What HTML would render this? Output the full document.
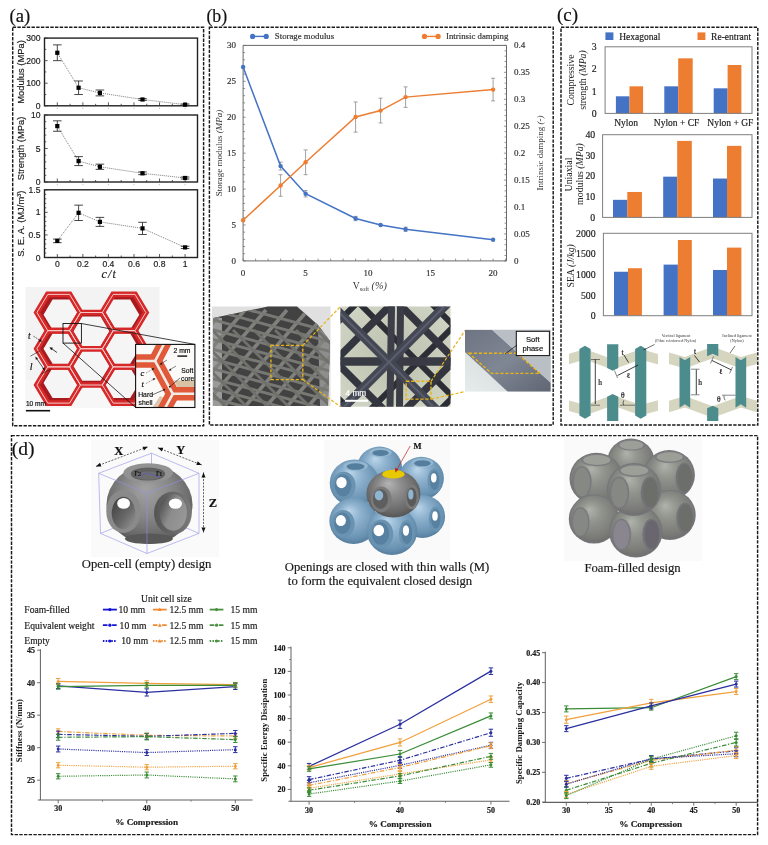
<!DOCTYPE html>
<html><head><meta charset="utf-8"><title>figure</title>
<style>
html,body{margin:0;padding:0;background:#fff;}
body{width:768px;height:845px;overflow:hidden;font-family:"Liberation Serif",serif;}
svg{display:block;} text{-webkit-font-smoothing:antialiased;stroke-width:0.18px;} body{will-change:transform;}
</style></head><body>
<svg width="768" height="845" viewBox="0 0 768 845">
<defs>
<clipPath id="hcclip"><rect x="25" y="287" width="135" height="120"/></clipPath>
<clipPath id="insclip"><rect x="135.6" y="344.4" width="59.30000000000001" height="63.10000000000002"/></clipPath>
<clipPath id="p1clip"><rect x="212" y="306.5" width="118.5" height="99.4"/></clipPath>
<clipPath id="p1body"><polygon points="213,318 268,306.5 297,306.5 318,325 330,341 328,406 213,406"/></clipPath>
<clipPath id="p2clip"><rect x="340.5" y="306.5" width="110" height="100.2"/></clipPath>
<radialGradient id="p2bg" cx="0.5" cy="0.5" r="0.7"><stop offset="0" stop-color="#bcc0ae"/><stop offset="1" stop-color="#d2d6c6"/></radialGradient>
<clipPath id="p3clip"><rect x="465" y="329.7" width="85.6" height="61.9"/></clipPath>
<linearGradient id="p3bg" x1="0" y1="1" x2="1" y2="0"><stop offset="0" stop-color="#e6ecea"/><stop offset="1" stop-color="#c8ced2"/></linearGradient>
<linearGradient id="p3st" x1="0" y1="0" x2="1" y2="1"><stop offset="0" stop-color="#6e7482"/><stop offset="0.5" stop-color="#7f8694"/><stop offset="1" stop-color="#5f6572"/></linearGradient>
<clipPath id="dgl"><rect x="569" y="340" width="89" height="83"/></clipPath>
<clipPath id="dgr"><rect x="669" y="340" width="88" height="83"/></clipPath>
<radialGradient id="gOpen" cx="0.5" cy="0.42" r="0.6" fx="0.45" fy="0.3"><stop offset="0" stop-color="#a2a2a2"/><stop offset="0.5" stop-color="#868686"/><stop offset="0.85" stop-color="#686868"/><stop offset="1" stop-color="#545454"/></radialGradient>
<linearGradient id="gTun" x1="0" y1="0" x2="1" y2="1"><stop offset="0" stop-color="#3a3a3a"/><stop offset="0.6" stop-color="#6a6a6a"/><stop offset="1" stop-color="#9a9a9a"/></linearGradient>
<linearGradient id="gTunR" x1="0" y1="0.2" x2="1" y2="0.8"><stop offset="0" stop-color="#4a4a4a"/><stop offset="0.45" stop-color="#8c8c8c"/><stop offset="1" stop-color="#9a9a9a"/></linearGradient>
<linearGradient id="gRing" x1="0" y1="0" x2="1" y2="0"><stop offset="0" stop-color="#555555"/><stop offset="1" stop-color="#7a7a7a"/></linearGradient>
<radialGradient id="gBlue" cx="0.5" cy="0.45" r="0.6" fx="0.4" fy="0.28"><stop offset="0" stop-color="#bcd6ea"/><stop offset="0.35" stop-color="#8fb3cf"/><stop offset="0.8" stop-color="#6790b0"/><stop offset="1" stop-color="#4d7696"/></radialGradient>
<radialGradient id="gGray" cx="0.5" cy="0.45" r="0.6" fx="0.4" fy="0.28"><stop offset="0" stop-color="#b4b4b4"/><stop offset="0.35" stop-color="#8e8e8e"/><stop offset="0.8" stop-color="#666"/><stop offset="1" stop-color="#4c4c4c"/></radialGradient>
<radialGradient id="gFoam" cx="0.5" cy="0.45" r="0.6" fx="0.4" fy="0.3"><stop offset="0" stop-color="#b0b2ac"/><stop offset="0.35" stop-color="#92948e"/><stop offset="0.8" stop-color="#7a7b77"/><stop offset="1" stop-color="#6a6a6c"/></radialGradient>
</defs>
<rect x="0" y="0" width="768" height="845" fill="#fff"/>
<rect x="12.7" y="27.3" width="190.9" height="398.5" fill="none" stroke="#1a1a1a" stroke-width="1.45" stroke-dasharray="3.4,1.3"/>
<text x="9.5" y="21.6" font-family="'Liberation Serif', serif" font-size="18.6" text-anchor="start" fill="#111" stroke="#111" font-weight="normal" font-style="normal">(a)</text>
<rect x="44.5" y="38.1" width="153" height="67.7" fill="none" stroke="#222" stroke-width="1.4"/>
<line x1="44.5" y1="105.8" x2="47.7" y2="105.8" stroke="#333" stroke-width="0.8"/>
<line x1="44.5" y1="94.52" x2="46.3" y2="94.52" stroke="#333" stroke-width="0.8"/>
<line x1="44.5" y1="83.23" x2="47.7" y2="83.23" stroke="#333" stroke-width="0.8"/>
<line x1="44.5" y1="71.95" x2="46.3" y2="71.95" stroke="#333" stroke-width="0.8"/>
<line x1="44.5" y1="60.67" x2="47.7" y2="60.67" stroke="#333" stroke-width="0.8"/>
<line x1="44.5" y1="49.38" x2="46.3" y2="49.38" stroke="#333" stroke-width="0.8"/>
<line x1="44.5" y1="38.1" x2="47.7" y2="38.1" stroke="#333" stroke-width="0.8"/>
<text x="40.5" y="108.8" font-family="'Liberation Sans', sans-serif" font-size="8.6" text-anchor="end" fill="#222" stroke="#222" font-weight="normal" font-style="normal">0</text>
<text x="40.5" y="86.23" font-family="'Liberation Sans', sans-serif" font-size="8.6" text-anchor="end" fill="#222" stroke="#222" font-weight="normal" font-style="normal">100</text>
<text x="40.5" y="63.67" font-family="'Liberation Sans', sans-serif" font-size="8.6" text-anchor="end" fill="#222" stroke="#222" font-weight="normal" font-style="normal">200</text>
<text x="40.5" y="41.1" font-family="'Liberation Sans', sans-serif" font-size="8.6" text-anchor="end" fill="#222" stroke="#222" font-weight="normal" font-style="normal">300</text>
<line x1="57.3" y1="105.8" x2="57.3" y2="102.3" stroke="#333" stroke-width="0.8"/>
<line x1="57.3" y1="107.8" x2="57.3" y2="109" stroke="#999" stroke-width="0.6"/>
<line x1="70.08" y1="105.8" x2="70.08" y2="103.8" stroke="#333" stroke-width="0.8"/>
<line x1="82.86" y1="105.8" x2="82.86" y2="102.3" stroke="#333" stroke-width="0.8"/>
<line x1="82.86" y1="107.8" x2="82.86" y2="109" stroke="#999" stroke-width="0.6"/>
<line x1="95.64" y1="105.8" x2="95.64" y2="103.8" stroke="#333" stroke-width="0.8"/>
<line x1="108.42" y1="105.8" x2="108.42" y2="102.3" stroke="#333" stroke-width="0.8"/>
<line x1="108.42" y1="107.8" x2="108.42" y2="109" stroke="#999" stroke-width="0.6"/>
<line x1="121.2" y1="105.8" x2="121.2" y2="103.8" stroke="#333" stroke-width="0.8"/>
<line x1="133.98" y1="105.8" x2="133.98" y2="102.3" stroke="#333" stroke-width="0.8"/>
<line x1="133.98" y1="107.8" x2="133.98" y2="109" stroke="#999" stroke-width="0.6"/>
<line x1="146.76" y1="105.8" x2="146.76" y2="103.8" stroke="#333" stroke-width="0.8"/>
<line x1="159.54" y1="105.8" x2="159.54" y2="102.3" stroke="#333" stroke-width="0.8"/>
<line x1="159.54" y1="107.8" x2="159.54" y2="109" stroke="#999" stroke-width="0.6"/>
<line x1="172.32" y1="105.8" x2="172.32" y2="103.8" stroke="#333" stroke-width="0.8"/>
<line x1="185.1" y1="105.8" x2="185.1" y2="102.3" stroke="#333" stroke-width="0.8"/>
<line x1="185.1" y1="107.8" x2="185.1" y2="109" stroke="#999" stroke-width="0.6"/>
<text x="23.9" y="71.95" font-family="'Liberation Sans', sans-serif" font-size="9.4" text-anchor="middle" fill="#222" stroke="#222" font-weight="normal" font-style="normal" transform="rotate(-90 23.9 71.95)">Modulus (MPa)</text>
<polyline points="57.3,52.77 78.6,87.75 99.9,92.94 142.5,99.48 185.1,104.67" fill="none" stroke="#444" stroke-width="0.7" stroke-dasharray="1,1"/>
<line x1="57.3" y1="44.87" x2="57.3" y2="60.67" stroke="#333" stroke-width="0.9"/>
<line x1="53" y1="44.87" x2="61.6" y2="44.87" stroke="#333" stroke-width="0.9"/>
<line x1="53" y1="60.67" x2="61.6" y2="60.67" stroke="#333" stroke-width="0.9"/>
<rect x="55.2" y="50.67" width="4.2" height="4.2" fill="#000" stroke="none" stroke-width="1"/>
<line x1="78.6" y1="80.98" x2="78.6" y2="94.52" stroke="#333" stroke-width="0.9"/>
<line x1="74.3" y1="80.98" x2="82.9" y2="80.98" stroke="#333" stroke-width="0.9"/>
<line x1="74.3" y1="94.52" x2="82.9" y2="94.52" stroke="#333" stroke-width="0.9"/>
<rect x="76.5" y="85.65" width="4.2" height="4.2" fill="#000" stroke="none" stroke-width="1"/>
<line x1="99.9" y1="90" x2="99.9" y2="95.87" stroke="#333" stroke-width="0.9"/>
<line x1="95.6" y1="90" x2="104.2" y2="90" stroke="#333" stroke-width="0.9"/>
<line x1="95.6" y1="95.87" x2="104.2" y2="95.87" stroke="#333" stroke-width="0.9"/>
<rect x="97.8" y="90.84" width="4.2" height="4.2" fill="#000" stroke="none" stroke-width="1"/>
<line x1="142.5" y1="98.58" x2="142.5" y2="100.38" stroke="#333" stroke-width="0.9"/>
<line x1="138.2" y1="98.58" x2="146.8" y2="98.58" stroke="#333" stroke-width="0.9"/>
<line x1="138.2" y1="100.38" x2="146.8" y2="100.38" stroke="#333" stroke-width="0.9"/>
<rect x="140.4" y="97.38" width="4.2" height="4.2" fill="#000" stroke="none" stroke-width="1"/>
<line x1="185.1" y1="103.99" x2="185.1" y2="105.35" stroke="#333" stroke-width="0.9"/>
<line x1="180.8" y1="103.99" x2="189.4" y2="103.99" stroke="#333" stroke-width="0.9"/>
<line x1="180.8" y1="105.35" x2="189.4" y2="105.35" stroke="#333" stroke-width="0.9"/>
<rect x="183" y="102.57" width="4.2" height="4.2" fill="#000" stroke="none" stroke-width="1"/>
<rect x="44.5" y="115" width="153" height="67" fill="none" stroke="#222" stroke-width="1.4"/>
<line x1="44.5" y1="182" x2="47.7" y2="182" stroke="#333" stroke-width="0.8"/>
<line x1="44.5" y1="175.3" x2="46.3" y2="175.3" stroke="#333" stroke-width="0.8"/>
<line x1="44.5" y1="168.6" x2="46.3" y2="168.6" stroke="#333" stroke-width="0.8"/>
<line x1="44.5" y1="161.9" x2="46.3" y2="161.9" stroke="#333" stroke-width="0.8"/>
<line x1="44.5" y1="155.2" x2="46.3" y2="155.2" stroke="#333" stroke-width="0.8"/>
<line x1="44.5" y1="148.5" x2="47.7" y2="148.5" stroke="#333" stroke-width="0.8"/>
<line x1="44.5" y1="141.8" x2="46.3" y2="141.8" stroke="#333" stroke-width="0.8"/>
<line x1="44.5" y1="135.1" x2="46.3" y2="135.1" stroke="#333" stroke-width="0.8"/>
<line x1="44.5" y1="128.4" x2="46.3" y2="128.4" stroke="#333" stroke-width="0.8"/>
<line x1="44.5" y1="121.7" x2="46.3" y2="121.7" stroke="#333" stroke-width="0.8"/>
<line x1="44.5" y1="115" x2="47.7" y2="115" stroke="#333" stroke-width="0.8"/>
<text x="40.5" y="185" font-family="'Liberation Sans', sans-serif" font-size="8.6" text-anchor="end" fill="#222" stroke="#222" font-weight="normal" font-style="normal">0</text>
<text x="40.5" y="151.5" font-family="'Liberation Sans', sans-serif" font-size="8.6" text-anchor="end" fill="#222" stroke="#222" font-weight="normal" font-style="normal">5</text>
<text x="40.5" y="118" font-family="'Liberation Sans', sans-serif" font-size="8.6" text-anchor="end" fill="#222" stroke="#222" font-weight="normal" font-style="normal">10</text>
<line x1="57.3" y1="182" x2="57.3" y2="178.5" stroke="#333" stroke-width="0.8"/>
<line x1="57.3" y1="184" x2="57.3" y2="185.2" stroke="#999" stroke-width="0.6"/>
<line x1="70.08" y1="182" x2="70.08" y2="180" stroke="#333" stroke-width="0.8"/>
<line x1="82.86" y1="182" x2="82.86" y2="178.5" stroke="#333" stroke-width="0.8"/>
<line x1="82.86" y1="184" x2="82.86" y2="185.2" stroke="#999" stroke-width="0.6"/>
<line x1="95.64" y1="182" x2="95.64" y2="180" stroke="#333" stroke-width="0.8"/>
<line x1="108.42" y1="182" x2="108.42" y2="178.5" stroke="#333" stroke-width="0.8"/>
<line x1="108.42" y1="184" x2="108.42" y2="185.2" stroke="#999" stroke-width="0.6"/>
<line x1="121.2" y1="182" x2="121.2" y2="180" stroke="#333" stroke-width="0.8"/>
<line x1="133.98" y1="182" x2="133.98" y2="178.5" stroke="#333" stroke-width="0.8"/>
<line x1="133.98" y1="184" x2="133.98" y2="185.2" stroke="#999" stroke-width="0.6"/>
<line x1="146.76" y1="182" x2="146.76" y2="180" stroke="#333" stroke-width="0.8"/>
<line x1="159.54" y1="182" x2="159.54" y2="178.5" stroke="#333" stroke-width="0.8"/>
<line x1="159.54" y1="184" x2="159.54" y2="185.2" stroke="#999" stroke-width="0.6"/>
<line x1="172.32" y1="182" x2="172.32" y2="180" stroke="#333" stroke-width="0.8"/>
<line x1="185.1" y1="182" x2="185.1" y2="178.5" stroke="#333" stroke-width="0.8"/>
<line x1="185.1" y1="184" x2="185.1" y2="185.2" stroke="#999" stroke-width="0.6"/>
<text x="23.9" y="148.5" font-family="'Liberation Sans', sans-serif" font-size="9.4" text-anchor="middle" fill="#222" stroke="#222" font-weight="normal" font-style="normal" transform="rotate(-90 23.9 148.5)">Strength (MPa)</text>
<polyline points="57.3,126.06 78.6,161.1 99.9,166.79 142.5,173.29 185.1,177.98" fill="none" stroke="#444" stroke-width="0.7" stroke-dasharray="1,1"/>
<line x1="57.3" y1="120.83" x2="57.3" y2="131.28" stroke="#333" stroke-width="0.9"/>
<line x1="53" y1="120.83" x2="61.6" y2="120.83" stroke="#333" stroke-width="0.9"/>
<line x1="53" y1="131.28" x2="61.6" y2="131.28" stroke="#333" stroke-width="0.9"/>
<rect x="55.2" y="123.96" width="4.2" height="4.2" fill="#000" stroke="none" stroke-width="1"/>
<line x1="78.6" y1="156.61" x2="78.6" y2="165.59" stroke="#333" stroke-width="0.9"/>
<line x1="74.3" y1="156.61" x2="82.9" y2="156.61" stroke="#333" stroke-width="0.9"/>
<line x1="74.3" y1="165.59" x2="82.9" y2="165.59" stroke="#333" stroke-width="0.9"/>
<rect x="76.5" y="159" width="4.2" height="4.2" fill="#000" stroke="none" stroke-width="1"/>
<line x1="99.9" y1="164.18" x2="99.9" y2="169.4" stroke="#333" stroke-width="0.9"/>
<line x1="95.6" y1="164.18" x2="104.2" y2="164.18" stroke="#333" stroke-width="0.9"/>
<line x1="95.6" y1="169.4" x2="104.2" y2="169.4" stroke="#333" stroke-width="0.9"/>
<rect x="97.8" y="164.69" width="4.2" height="4.2" fill="#000" stroke="none" stroke-width="1"/>
<line x1="142.5" y1="171.95" x2="142.5" y2="174.63" stroke="#333" stroke-width="0.9"/>
<line x1="138.2" y1="171.95" x2="146.8" y2="171.95" stroke="#333" stroke-width="0.9"/>
<line x1="138.2" y1="174.63" x2="146.8" y2="174.63" stroke="#333" stroke-width="0.9"/>
<rect x="140.4" y="171.19" width="4.2" height="4.2" fill="#000" stroke="none" stroke-width="1"/>
<line x1="185.1" y1="176.97" x2="185.1" y2="178.99" stroke="#333" stroke-width="0.9"/>
<line x1="180.8" y1="176.97" x2="189.4" y2="176.97" stroke="#333" stroke-width="0.9"/>
<line x1="180.8" y1="178.99" x2="189.4" y2="178.99" stroke="#333" stroke-width="0.9"/>
<rect x="183" y="175.88" width="4.2" height="4.2" fill="#000" stroke="none" stroke-width="1"/>
<rect x="44.5" y="189.8" width="153" height="67.7" fill="none" stroke="#222" stroke-width="1.4"/>
<line x1="44.5" y1="257.5" x2="47.7" y2="257.5" stroke="#333" stroke-width="0.8"/>
<line x1="44.5" y1="252.99" x2="46.3" y2="252.99" stroke="#333" stroke-width="0.8"/>
<line x1="44.5" y1="248.47" x2="46.3" y2="248.47" stroke="#333" stroke-width="0.8"/>
<line x1="44.5" y1="243.96" x2="46.3" y2="243.96" stroke="#333" stroke-width="0.8"/>
<line x1="44.5" y1="239.45" x2="46.3" y2="239.45" stroke="#333" stroke-width="0.8"/>
<line x1="44.5" y1="234.93" x2="47.7" y2="234.93" stroke="#333" stroke-width="0.8"/>
<line x1="44.5" y1="230.42" x2="46.3" y2="230.42" stroke="#333" stroke-width="0.8"/>
<line x1="44.5" y1="225.91" x2="46.3" y2="225.91" stroke="#333" stroke-width="0.8"/>
<line x1="44.5" y1="221.39" x2="46.3" y2="221.39" stroke="#333" stroke-width="0.8"/>
<line x1="44.5" y1="216.88" x2="46.3" y2="216.88" stroke="#333" stroke-width="0.8"/>
<line x1="44.5" y1="212.37" x2="47.7" y2="212.37" stroke="#333" stroke-width="0.8"/>
<line x1="44.5" y1="207.85" x2="46.3" y2="207.85" stroke="#333" stroke-width="0.8"/>
<line x1="44.5" y1="203.34" x2="46.3" y2="203.34" stroke="#333" stroke-width="0.8"/>
<line x1="44.5" y1="198.83" x2="46.3" y2="198.83" stroke="#333" stroke-width="0.8"/>
<line x1="44.5" y1="194.31" x2="46.3" y2="194.31" stroke="#333" stroke-width="0.8"/>
<line x1="44.5" y1="189.8" x2="47.7" y2="189.8" stroke="#333" stroke-width="0.8"/>
<text x="40.5" y="260.5" font-family="'Liberation Sans', sans-serif" font-size="8.6" text-anchor="end" fill="#222" stroke="#222" font-weight="normal" font-style="normal">0</text>
<text x="40.5" y="237.93" font-family="'Liberation Sans', sans-serif" font-size="8.6" text-anchor="end" fill="#222" stroke="#222" font-weight="normal" font-style="normal">0.5</text>
<text x="40.5" y="215.37" font-family="'Liberation Sans', sans-serif" font-size="8.6" text-anchor="end" fill="#222" stroke="#222" font-weight="normal" font-style="normal">1</text>
<text x="40.5" y="192.8" font-family="'Liberation Sans', sans-serif" font-size="8.6" text-anchor="end" fill="#222" stroke="#222" font-weight="normal" font-style="normal">1.5</text>
<line x1="57.3" y1="257.5" x2="57.3" y2="254" stroke="#333" stroke-width="0.8"/>
<line x1="57.3" y1="259.5" x2="57.3" y2="260.7" stroke="#999" stroke-width="0.6"/>
<line x1="70.08" y1="257.5" x2="70.08" y2="255.5" stroke="#333" stroke-width="0.8"/>
<line x1="82.86" y1="257.5" x2="82.86" y2="254" stroke="#333" stroke-width="0.8"/>
<line x1="82.86" y1="259.5" x2="82.86" y2="260.7" stroke="#999" stroke-width="0.6"/>
<line x1="95.64" y1="257.5" x2="95.64" y2="255.5" stroke="#333" stroke-width="0.8"/>
<line x1="108.42" y1="257.5" x2="108.42" y2="254" stroke="#333" stroke-width="0.8"/>
<line x1="108.42" y1="259.5" x2="108.42" y2="260.7" stroke="#999" stroke-width="0.6"/>
<line x1="121.2" y1="257.5" x2="121.2" y2="255.5" stroke="#333" stroke-width="0.8"/>
<line x1="133.98" y1="257.5" x2="133.98" y2="254" stroke="#333" stroke-width="0.8"/>
<line x1="133.98" y1="259.5" x2="133.98" y2="260.7" stroke="#999" stroke-width="0.6"/>
<line x1="146.76" y1="257.5" x2="146.76" y2="255.5" stroke="#333" stroke-width="0.8"/>
<line x1="159.54" y1="257.5" x2="159.54" y2="254" stroke="#333" stroke-width="0.8"/>
<line x1="159.54" y1="259.5" x2="159.54" y2="260.7" stroke="#999" stroke-width="0.6"/>
<line x1="172.32" y1="257.5" x2="172.32" y2="255.5" stroke="#333" stroke-width="0.8"/>
<line x1="185.1" y1="257.5" x2="185.1" y2="254" stroke="#333" stroke-width="0.8"/>
<line x1="185.1" y1="259.5" x2="185.1" y2="260.7" stroke="#999" stroke-width="0.6"/>
<text x="23.9" y="223.65" font-family="'Liberation Sans', sans-serif" font-size="9.4" text-anchor="middle" fill="#222" stroke="#222" font-weight="normal" font-style="normal" transform="rotate(-90 23.9 223.65)">S. E. A. (MJ/m<tspan font-size="5.5" dy="-3">3</tspan><tspan dy="3">)</tspan></text>
<polyline points="57.3,240.89 78.6,212.82 99.9,221.89 142.5,228.39 185.1,247.39" fill="none" stroke="#444" stroke-width="0.7" stroke-dasharray="1,1"/>
<line x1="57.3" y1="239.09" x2="57.3" y2="242.7" stroke="#333" stroke-width="0.9"/>
<line x1="53" y1="239.09" x2="61.6" y2="239.09" stroke="#333" stroke-width="0.9"/>
<line x1="53" y1="242.7" x2="61.6" y2="242.7" stroke="#333" stroke-width="0.9"/>
<rect x="55.2" y="238.79" width="4.2" height="4.2" fill="#000" stroke="none" stroke-width="1"/>
<line x1="78.6" y1="205.15" x2="78.6" y2="220.49" stroke="#333" stroke-width="0.9"/>
<line x1="74.3" y1="205.15" x2="82.9" y2="205.15" stroke="#333" stroke-width="0.9"/>
<line x1="74.3" y1="220.49" x2="82.9" y2="220.49" stroke="#333" stroke-width="0.9"/>
<rect x="76.5" y="210.72" width="4.2" height="4.2" fill="#000" stroke="none" stroke-width="1"/>
<line x1="99.9" y1="217.38" x2="99.9" y2="226.4" stroke="#333" stroke-width="0.9"/>
<line x1="95.6" y1="217.38" x2="104.2" y2="217.38" stroke="#333" stroke-width="0.9"/>
<line x1="95.6" y1="226.4" x2="104.2" y2="226.4" stroke="#333" stroke-width="0.9"/>
<rect x="97.8" y="219.79" width="4.2" height="4.2" fill="#000" stroke="none" stroke-width="1"/>
<line x1="142.5" y1="222.3" x2="142.5" y2="234.48" stroke="#333" stroke-width="0.9"/>
<line x1="138.2" y1="222.3" x2="146.8" y2="222.3" stroke="#333" stroke-width="0.9"/>
<line x1="138.2" y1="234.48" x2="146.8" y2="234.48" stroke="#333" stroke-width="0.9"/>
<rect x="140.4" y="226.29" width="4.2" height="4.2" fill="#000" stroke="none" stroke-width="1"/>
<line x1="185.1" y1="246.26" x2="185.1" y2="248.52" stroke="#333" stroke-width="0.9"/>
<line x1="180.8" y1="246.26" x2="189.4" y2="246.26" stroke="#333" stroke-width="0.9"/>
<line x1="180.8" y1="248.52" x2="189.4" y2="248.52" stroke="#333" stroke-width="0.9"/>
<rect x="183" y="245.29" width="4.2" height="4.2" fill="#000" stroke="none" stroke-width="1"/>
<text x="57.3" y="267.4" font-family="'Liberation Sans', sans-serif" font-size="8.6" text-anchor="middle" fill="#222" stroke="#222" font-weight="normal" font-style="normal">0</text>
<text x="82.86" y="267.4" font-family="'Liberation Sans', sans-serif" font-size="8.6" text-anchor="middle" fill="#222" stroke="#222" font-weight="normal" font-style="normal">0.2</text>
<text x="108.42" y="267.4" font-family="'Liberation Sans', sans-serif" font-size="8.6" text-anchor="middle" fill="#222" stroke="#222" font-weight="normal" font-style="normal">0.4</text>
<text x="133.98" y="267.4" font-family="'Liberation Sans', sans-serif" font-size="8.6" text-anchor="middle" fill="#222" stroke="#222" font-weight="normal" font-style="normal">0.6</text>
<text x="159.54" y="267.4" font-family="'Liberation Sans', sans-serif" font-size="8.6" text-anchor="middle" fill="#222" stroke="#222" font-weight="normal" font-style="normal">0.8</text>
<text x="185.1" y="267.4" font-family="'Liberation Sans', sans-serif" font-size="8.6" text-anchor="middle" fill="#222" stroke="#222" font-weight="normal" font-style="normal">1</text>
<text x="109.3" y="277.6" font-family="'Liberation Serif', serif" font-size="12" text-anchor="middle" fill="#222" stroke="#222" font-weight="normal" font-style="italic" letter-spacing="1.2">c/t</text>
<rect x="25.5" y="287" width="134" height="121" fill="#f3f3f3" stroke="none" stroke-width="1"/>
<rect x="25.5" y="380" width="134" height="28" fill="#f7f7f7" stroke="none" stroke-width="1"/>
<g clip-path="url(#hcclip)"><g transform="translate(0 291.3) scale(1 0.96) translate(0 -291.3)">
<polygon points="80.5,313.4 69.6,332.28 47.8,332.28 36.9,313.4 47.8,294.52 69.6,294.52" fill="#a81a1e" stroke="none" stroke-width="1"/>
<polygon points="79.9,315.6 70.8,331.36 52.6,331.36 43.5,315.6 52.6,299.83 70.8,299.83" fill="#f5f5f5" stroke="none" stroke-width="1"/>
<polygon points="80.5,351.16 69.6,370.04 47.8,370.04 36.9,351.16 47.8,332.28 69.6,332.28" fill="#a81a1e" stroke="none" stroke-width="1"/>
<polygon points="79.9,351.09 70.8,366.85 52.6,366.85 43.5,351.09 52.6,335.33 70.8,335.33" fill="#f5f5f5" stroke="none" stroke-width="1"/>
<polygon points="80.5,388.92 69.6,407.8 47.8,407.8 36.9,388.92 47.8,370.04 69.6,370.04" fill="#a81a1e" stroke="none" stroke-width="1"/>
<polygon points="79.9,386.72 70.8,402.48 52.6,402.48 43.5,386.72 52.6,370.96 70.8,370.96" fill="#f5f5f5" stroke="none" stroke-width="1"/>
<polygon points="113.2,332.28 102.3,351.16 80.5,351.16 69.6,332.28 80.5,313.4 102.3,313.4" fill="#a81a1e" stroke="none" stroke-width="1"/>
<polygon points="109.6,333.34 100.5,349.1 82.3,349.1 73.2,333.34 82.3,317.58 100.5,317.58" fill="#f5f5f5" stroke="none" stroke-width="1"/>
<polygon points="113.2,370.04 102.3,388.92 80.5,388.92 69.6,370.04 80.5,351.16 102.3,351.16" fill="#a81a1e" stroke="none" stroke-width="1"/>
<polygon points="109.6,368.84 100.5,384.6 82.3,384.6 73.2,368.84 82.3,353.07 100.5,353.07" fill="#f5f5f5" stroke="none" stroke-width="1"/>
<polygon points="145.9,313.4 135,332.28 113.2,332.28 102.3,313.4 113.2,294.52 135,294.52" fill="#a81a1e" stroke="none" stroke-width="1"/>
<polygon points="139.3,315.6 130.2,331.36 112,331.36 102.9,315.6 112,299.83 130.2,299.83" fill="#f5f5f5" stroke="none" stroke-width="1"/>
<polygon points="145.9,351.16 135,370.04 113.2,370.04 102.3,351.16 113.2,332.28 135,332.28" fill="#a81a1e" stroke="none" stroke-width="1"/>
<polygon points="139.3,351.09 130.2,366.85 112,366.85 102.9,351.09 112,335.33 130.2,335.33" fill="#f5f5f5" stroke="none" stroke-width="1"/>
<polygon points="145.9,388.92 135,407.8 113.2,407.8 102.3,388.92 113.2,370.04 135,370.04" fill="#a81a1e" stroke="none" stroke-width="1"/>
<polygon points="139.3,386.72 130.2,402.48 112,402.48 102.9,386.72 112,370.96 130.2,370.96" fill="#f5f5f5" stroke="none" stroke-width="1"/>
<polygon points="80.5,313.4 69.6,332.28 47.8,332.28 36.9,313.4 47.8,294.52 69.6,294.52" fill="none" stroke="#d62828" stroke-width="5.8" stroke-linejoin="miter"/>
<polygon points="80.5,351.16 69.6,370.04 47.8,370.04 36.9,351.16 47.8,332.28 69.6,332.28" fill="none" stroke="#d62828" stroke-width="5.8" stroke-linejoin="miter"/>
<polygon points="80.5,388.92 69.6,407.8 47.8,407.8 36.9,388.92 47.8,370.04 69.6,370.04" fill="none" stroke="#d62828" stroke-width="5.8" stroke-linejoin="miter"/>
<polygon points="113.2,332.28 102.3,351.16 80.5,351.16 69.6,332.28 80.5,313.4 102.3,313.4" fill="none" stroke="#d62828" stroke-width="5.8" stroke-linejoin="miter"/>
<polygon points="113.2,370.04 102.3,388.92 80.5,388.92 69.6,370.04 80.5,351.16 102.3,351.16" fill="none" stroke="#d62828" stroke-width="5.8" stroke-linejoin="miter"/>
<polygon points="145.9,313.4 135,332.28 113.2,332.28 102.3,313.4 113.2,294.52 135,294.52" fill="none" stroke="#d62828" stroke-width="5.8" stroke-linejoin="miter"/>
<polygon points="145.9,351.16 135,370.04 113.2,370.04 102.3,351.16 113.2,332.28 135,332.28" fill="none" stroke="#d62828" stroke-width="5.8" stroke-linejoin="miter"/>
<polygon points="145.9,388.92 135,407.8 113.2,407.8 102.3,388.92 113.2,370.04 135,370.04" fill="none" stroke="#d62828" stroke-width="5.8" stroke-linejoin="miter"/>
<polygon points="80.5,313.4 69.6,332.28 47.8,332.28 36.9,313.4 47.8,294.52 69.6,294.52" fill="none" stroke="#f6cccc" stroke-width="1.0"/>
<polygon points="80.5,351.16 69.6,370.04 47.8,370.04 36.9,351.16 47.8,332.28 69.6,332.28" fill="none" stroke="#f6cccc" stroke-width="1.0"/>
<polygon points="80.5,388.92 69.6,407.8 47.8,407.8 36.9,388.92 47.8,370.04 69.6,370.04" fill="none" stroke="#f6cccc" stroke-width="1.0"/>
<polygon points="113.2,332.28 102.3,351.16 80.5,351.16 69.6,332.28 80.5,313.4 102.3,313.4" fill="none" stroke="#f6cccc" stroke-width="1.0"/>
<polygon points="113.2,370.04 102.3,388.92 80.5,388.92 69.6,370.04 80.5,351.16 102.3,351.16" fill="none" stroke="#f6cccc" stroke-width="1.0"/>
<polygon points="145.9,313.4 135,332.28 113.2,332.28 102.3,313.4 113.2,294.52 135,294.52" fill="none" stroke="#f6cccc" stroke-width="1.0"/>
<polygon points="145.9,351.16 135,370.04 113.2,370.04 102.3,351.16 113.2,332.28 135,332.28" fill="none" stroke="#f6cccc" stroke-width="1.0"/>
<polygon points="145.9,388.92 135,407.8 113.2,407.8 102.3,388.92 113.2,370.04 135,370.04" fill="none" stroke="#f6cccc" stroke-width="1.0"/>
</g></g>
<rect x="63" y="323.5" width="18.4" height="19.6" fill="none" stroke="#111" stroke-width="0.9"/>
<line x1="81.4" y1="323.5" x2="194.9" y2="344.4" stroke="#111" stroke-width="0.8"/>
<line x1="63" y1="343.1" x2="135.6" y2="407.5" stroke="#111" stroke-width="0.8"/>
<text x="28" y="339" font-family="'Liberation Serif', serif" font-size="9.5" text-anchor="start" fill="#111" stroke="#111" font-weight="normal" font-style="italic">t</text>
<line x1="33.5" y1="336.2" x2="39.8" y2="340.2" stroke="#111" stroke-width="0.7" stroke-dasharray="1.5,1"/>
<polygon points="42,341.6 38.6,341.4 40.2,338.8" fill="#111" stroke="none" stroke-width="1"/>
<line x1="51.5" y1="348.6" x2="57" y2="352.5" stroke="#111" stroke-width="0.8"/>
<polygon points="49.5,347.2 53,347.8 51.2,350.2" fill="#111" stroke="none" stroke-width="1"/>
<text x="29.8" y="370" font-family="'Liberation Serif', serif" font-size="10" text-anchor="start" fill="#111" stroke="#111" font-weight="normal" font-style="italic">l</text>
<line x1="36.2" y1="357.8" x2="44.1" y2="369.5" stroke="#111" stroke-width="0.7"/>
<polygon points="35.4,356.4 38,358.8 35.8,359.8" fill="#111" stroke="none" stroke-width="1"/>
<polygon points="44.9,370.9 42.3,368.5 44.5,367.5" fill="#111" stroke="none" stroke-width="1"/>
<line x1="30.4" y1="356.2" x2="39.5" y2="351" stroke="#111" stroke-width="0.6"/>
<line x1="41.5" y1="373.8" x2="50.6" y2="369.2" stroke="#111" stroke-width="0.6"/>
<text x="25.9" y="405.9" font-family="'Liberation Sans', sans-serif" font-size="6.6" text-anchor="start" fill="#111" stroke="#111" font-weight="normal" font-style="normal">10 mm</text>
<rect x="25.9" y="409.9" width="24.2" height="1.6" fill="#111" stroke="none" stroke-width="1"/>
<rect x="135.6" y="344.4" width="59.3" height="63.1" fill="#fbfaf8" stroke="none" stroke-width="1"/>
<g clip-path="url(#insclip)">
<polygon points="174,380.5 196,380.5 196,388 178,388" fill="#d9c3a6" stroke="none" stroke-width="1"/>
<polygon points="152,408 160,396 164,398 158,408" fill="#dcc8b0" stroke="none" stroke-width="1"/>
<line x1="120" y1="361" x2="155.1" y2="361" stroke="#e05a3a" stroke-width="13.5" stroke-linecap="round"/>
<line x1="155.1" y1="361" x2="164.5" y2="343" stroke="#e05a3a" stroke-width="13.5" stroke-linecap="round"/>
<line x1="155.1" y1="361" x2="172.8" y2="393.8" stroke="#e05a3a" stroke-width="13.5" stroke-linecap="round"/>
<line x1="172.8" y1="393.8" x2="200" y2="393.8" stroke="#e05a3a" stroke-width="13.5" stroke-linecap="round"/>
<line x1="172.8" y1="393.8" x2="163.5" y2="411" stroke="#e05a3a" stroke-width="13.5" stroke-linecap="round"/>
<line x1="120" y1="361" x2="155.1" y2="361" stroke="#f2ece6" stroke-width="2.6" stroke-linecap="round"/>
<line x1="155.1" y1="361" x2="164.5" y2="343" stroke="#f2ece6" stroke-width="2.6" stroke-linecap="round"/>
<line x1="155.1" y1="361" x2="172.8" y2="393.8" stroke="#f2ece6" stroke-width="2.6" stroke-linecap="round"/>
<line x1="172.8" y1="393.8" x2="200" y2="393.8" stroke="#f2ece6" stroke-width="2.6" stroke-linecap="round"/>
<line x1="172.8" y1="393.8" x2="163.5" y2="411" stroke="#f2ece6" stroke-width="2.6" stroke-linecap="round"/>
</g>
<rect x="135.6" y="344.4" width="59.3" height="63.1" fill="none" stroke="#111" stroke-width="1.1"/>
<text x="173.5" y="353.3" font-family="'Liberation Sans', sans-serif" font-size="6.8" text-anchor="start" fill="#111" stroke="#111" font-weight="normal" font-style="normal">2 mm</text>
<rect x="177.4" y="355.4" width="9.8" height="1.4" fill="#111" stroke="none" stroke-width="1"/>
<text x="181.3" y="373.3" font-family="'Liberation Sans', sans-serif" font-size="6.8" text-anchor="start" fill="#111" stroke="#111" font-weight="normal" font-style="normal">Soft</text>
<text x="181" y="381.3" font-family="'Liberation Sans', sans-serif" font-size="6.8" text-anchor="start" fill="#111" stroke="#111" font-weight="normal" font-style="normal">core</text>
<text x="138.2" y="397.3" font-family="'Liberation Sans', sans-serif" font-size="6.8" text-anchor="start" fill="#111" stroke="#111" font-weight="normal" font-style="normal">Hard</text>
<text x="138.6" y="405" font-family="'Liberation Sans', sans-serif" font-size="6.8" text-anchor="start" fill="#111" stroke="#111" font-weight="normal" font-style="normal">shell</text>
<text x="140.5" y="376.3" font-family="'Liberation Serif', serif" font-size="8.5" text-anchor="start" fill="#111" stroke="#111" font-weight="normal" font-style="italic">c</text>
<text x="141.5" y="386.8" font-family="'Liberation Serif', serif" font-size="8.5" text-anchor="start" fill="#111" stroke="#111" font-weight="normal" font-style="italic">t</text>
<line x1="180" y1="378" x2="169.8" y2="386.7" stroke="#111" stroke-width="0.6"/>
<circle cx="169.8" cy="386.7" r="0.9" fill="#111"/>
<line x1="152" y1="395" x2="164.2" y2="389.7" stroke="#111" stroke-width="0.6"/>
<circle cx="164.2" cy="389.7" r="0.9" fill="#111"/>
<line x1="146" y1="373" x2="153" y2="369" stroke="#111" stroke-width="0.5" stroke-dasharray="1,0.8"/>
<polygon points="154.5,368.2 151.6,368.6 152.8,370.6" fill="#111" stroke="none" stroke-width="1"/>
<line x1="146" y1="383.5" x2="154" y2="379" stroke="#111" stroke-width="0.5" stroke-dasharray="1,0.8"/>
<polygon points="155.5,378.2 152.6,378.6 153.8,380.6" fill="#111" stroke="none" stroke-width="1"/>
<line x1="167" y1="360" x2="160.5" y2="364" stroke="#111" stroke-width="0.5"/>
<polygon points="159.5,364.6 161.6,362.4 162.4,364.4" fill="#111" stroke="none" stroke-width="1"/>
<line x1="176" y1="366" x2="169.5" y2="370" stroke="#111" stroke-width="0.5"/>
<polygon points="168.5,370.6 170.6,368.4 171.4,370.4" fill="#111" stroke="none" stroke-width="1"/>
<rect x="209.4" y="27.3" width="343.8" height="397.6" fill="none" stroke="#1a1a1a" stroke-width="1.45" stroke-dasharray="3.4,1.3"/>
<text x="206.4" y="21.6" font-family="'Liberation Serif', serif" font-size="17.8" text-anchor="start" fill="#111" stroke="#111" font-weight="normal" font-style="normal">(b)</text>
<polyline points="243.1,45.4 243.1,260.9 506.5,260.9 506.5,45.4 243.1,45.4" fill="none" stroke="#6a6a6a" stroke-width="1.0"/>
<line x1="243.1" y1="260.9" x2="245.7" y2="260.9" stroke="#6a6a6a" stroke-width="0.7"/>
<line x1="243.1" y1="253.72" x2="245.1" y2="253.72" stroke="#6a6a6a" stroke-width="0.7"/>
<line x1="243.1" y1="246.53" x2="245.1" y2="246.53" stroke="#6a6a6a" stroke-width="0.7"/>
<line x1="243.1" y1="239.35" x2="245.1" y2="239.35" stroke="#6a6a6a" stroke-width="0.7"/>
<line x1="243.1" y1="232.17" x2="245.1" y2="232.17" stroke="#6a6a6a" stroke-width="0.7"/>
<line x1="243.1" y1="224.98" x2="245.7" y2="224.98" stroke="#6a6a6a" stroke-width="0.7"/>
<line x1="243.1" y1="217.8" x2="245.1" y2="217.8" stroke="#6a6a6a" stroke-width="0.7"/>
<line x1="243.1" y1="210.62" x2="245.1" y2="210.62" stroke="#6a6a6a" stroke-width="0.7"/>
<line x1="243.1" y1="203.43" x2="245.1" y2="203.43" stroke="#6a6a6a" stroke-width="0.7"/>
<line x1="243.1" y1="196.25" x2="245.1" y2="196.25" stroke="#6a6a6a" stroke-width="0.7"/>
<line x1="243.1" y1="189.07" x2="245.7" y2="189.07" stroke="#6a6a6a" stroke-width="0.7"/>
<line x1="243.1" y1="181.88" x2="245.1" y2="181.88" stroke="#6a6a6a" stroke-width="0.7"/>
<line x1="243.1" y1="174.7" x2="245.1" y2="174.7" stroke="#6a6a6a" stroke-width="0.7"/>
<line x1="243.1" y1="167.52" x2="245.1" y2="167.52" stroke="#6a6a6a" stroke-width="0.7"/>
<line x1="243.1" y1="160.33" x2="245.1" y2="160.33" stroke="#6a6a6a" stroke-width="0.7"/>
<line x1="243.1" y1="153.15" x2="245.7" y2="153.15" stroke="#6a6a6a" stroke-width="0.7"/>
<line x1="243.1" y1="145.97" x2="245.1" y2="145.97" stroke="#6a6a6a" stroke-width="0.7"/>
<line x1="243.1" y1="138.78" x2="245.1" y2="138.78" stroke="#6a6a6a" stroke-width="0.7"/>
<line x1="243.1" y1="131.6" x2="245.1" y2="131.6" stroke="#6a6a6a" stroke-width="0.7"/>
<line x1="243.1" y1="124.42" x2="245.1" y2="124.42" stroke="#6a6a6a" stroke-width="0.7"/>
<line x1="243.1" y1="117.23" x2="245.7" y2="117.23" stroke="#6a6a6a" stroke-width="0.7"/>
<line x1="243.1" y1="110.05" x2="245.1" y2="110.05" stroke="#6a6a6a" stroke-width="0.7"/>
<line x1="243.1" y1="102.87" x2="245.1" y2="102.87" stroke="#6a6a6a" stroke-width="0.7"/>
<line x1="243.1" y1="95.68" x2="245.1" y2="95.68" stroke="#6a6a6a" stroke-width="0.7"/>
<line x1="243.1" y1="88.5" x2="245.1" y2="88.5" stroke="#6a6a6a" stroke-width="0.7"/>
<line x1="243.1" y1="81.32" x2="245.7" y2="81.32" stroke="#6a6a6a" stroke-width="0.7"/>
<line x1="243.1" y1="74.13" x2="245.1" y2="74.13" stroke="#6a6a6a" stroke-width="0.7"/>
<line x1="243.1" y1="66.95" x2="245.1" y2="66.95" stroke="#6a6a6a" stroke-width="0.7"/>
<line x1="243.1" y1="59.77" x2="245.1" y2="59.77" stroke="#6a6a6a" stroke-width="0.7"/>
<line x1="243.1" y1="52.58" x2="245.1" y2="52.58" stroke="#6a6a6a" stroke-width="0.7"/>
<line x1="243.1" y1="45.4" x2="245.7" y2="45.4" stroke="#6a6a6a" stroke-width="0.7"/>
<line x1="506.5" y1="260.9" x2="503.9" y2="260.9" stroke="#6a6a6a" stroke-width="0.7"/>
<line x1="506.5" y1="255.51" x2="504.5" y2="255.51" stroke="#6a6a6a" stroke-width="0.7"/>
<line x1="506.5" y1="250.12" x2="504.5" y2="250.12" stroke="#6a6a6a" stroke-width="0.7"/>
<line x1="506.5" y1="244.74" x2="504.5" y2="244.74" stroke="#6a6a6a" stroke-width="0.7"/>
<line x1="506.5" y1="239.35" x2="504.5" y2="239.35" stroke="#6a6a6a" stroke-width="0.7"/>
<line x1="506.5" y1="233.96" x2="503.9" y2="233.96" stroke="#6a6a6a" stroke-width="0.7"/>
<line x1="506.5" y1="228.57" x2="504.5" y2="228.57" stroke="#6a6a6a" stroke-width="0.7"/>
<line x1="506.5" y1="223.19" x2="504.5" y2="223.19" stroke="#6a6a6a" stroke-width="0.7"/>
<line x1="506.5" y1="217.8" x2="504.5" y2="217.8" stroke="#6a6a6a" stroke-width="0.7"/>
<line x1="506.5" y1="212.41" x2="504.5" y2="212.41" stroke="#6a6a6a" stroke-width="0.7"/>
<line x1="506.5" y1="207.02" x2="503.9" y2="207.02" stroke="#6a6a6a" stroke-width="0.7"/>
<line x1="506.5" y1="201.64" x2="504.5" y2="201.64" stroke="#6a6a6a" stroke-width="0.7"/>
<line x1="506.5" y1="196.25" x2="504.5" y2="196.25" stroke="#6a6a6a" stroke-width="0.7"/>
<line x1="506.5" y1="190.86" x2="504.5" y2="190.86" stroke="#6a6a6a" stroke-width="0.7"/>
<line x1="506.5" y1="185.47" x2="504.5" y2="185.47" stroke="#6a6a6a" stroke-width="0.7"/>
<line x1="506.5" y1="180.09" x2="503.9" y2="180.09" stroke="#6a6a6a" stroke-width="0.7"/>
<line x1="506.5" y1="174.7" x2="504.5" y2="174.7" stroke="#6a6a6a" stroke-width="0.7"/>
<line x1="506.5" y1="169.31" x2="504.5" y2="169.31" stroke="#6a6a6a" stroke-width="0.7"/>
<line x1="506.5" y1="163.93" x2="504.5" y2="163.93" stroke="#6a6a6a" stroke-width="0.7"/>
<line x1="506.5" y1="158.54" x2="504.5" y2="158.54" stroke="#6a6a6a" stroke-width="0.7"/>
<line x1="506.5" y1="153.15" x2="503.9" y2="153.15" stroke="#6a6a6a" stroke-width="0.7"/>
<line x1="506.5" y1="147.76" x2="504.5" y2="147.76" stroke="#6a6a6a" stroke-width="0.7"/>
<line x1="506.5" y1="142.38" x2="504.5" y2="142.38" stroke="#6a6a6a" stroke-width="0.7"/>
<line x1="506.5" y1="136.99" x2="504.5" y2="136.99" stroke="#6a6a6a" stroke-width="0.7"/>
<line x1="506.5" y1="131.6" x2="504.5" y2="131.6" stroke="#6a6a6a" stroke-width="0.7"/>
<line x1="506.5" y1="126.21" x2="503.9" y2="126.21" stroke="#6a6a6a" stroke-width="0.7"/>
<line x1="506.5" y1="120.82" x2="504.5" y2="120.82" stroke="#6a6a6a" stroke-width="0.7"/>
<line x1="506.5" y1="115.44" x2="504.5" y2="115.44" stroke="#6a6a6a" stroke-width="0.7"/>
<line x1="506.5" y1="110.05" x2="504.5" y2="110.05" stroke="#6a6a6a" stroke-width="0.7"/>
<line x1="506.5" y1="104.66" x2="504.5" y2="104.66" stroke="#6a6a6a" stroke-width="0.7"/>
<line x1="506.5" y1="99.28" x2="503.9" y2="99.28" stroke="#6a6a6a" stroke-width="0.7"/>
<line x1="506.5" y1="93.89" x2="504.5" y2="93.89" stroke="#6a6a6a" stroke-width="0.7"/>
<line x1="506.5" y1="88.5" x2="504.5" y2="88.5" stroke="#6a6a6a" stroke-width="0.7"/>
<line x1="506.5" y1="83.11" x2="504.5" y2="83.11" stroke="#6a6a6a" stroke-width="0.7"/>
<line x1="506.5" y1="77.72" x2="504.5" y2="77.72" stroke="#6a6a6a" stroke-width="0.7"/>
<line x1="506.5" y1="72.34" x2="503.9" y2="72.34" stroke="#6a6a6a" stroke-width="0.7"/>
<line x1="506.5" y1="66.95" x2="504.5" y2="66.95" stroke="#6a6a6a" stroke-width="0.7"/>
<line x1="506.5" y1="61.56" x2="504.5" y2="61.56" stroke="#6a6a6a" stroke-width="0.7"/>
<line x1="506.5" y1="56.18" x2="504.5" y2="56.18" stroke="#6a6a6a" stroke-width="0.7"/>
<line x1="506.5" y1="50.79" x2="504.5" y2="50.79" stroke="#6a6a6a" stroke-width="0.7"/>
<line x1="506.5" y1="45.4" x2="503.9" y2="45.4" stroke="#6a6a6a" stroke-width="0.7"/>
<line x1="243.1" y1="260.9" x2="243.1" y2="258.6" stroke="#6a6a6a" stroke-width="0.7"/>
<line x1="255.6" y1="260.9" x2="255.6" y2="258.6" stroke="#6a6a6a" stroke-width="0.7"/>
<line x1="268.1" y1="260.9" x2="268.1" y2="258.6" stroke="#6a6a6a" stroke-width="0.7"/>
<line x1="280.6" y1="260.9" x2="280.6" y2="258.6" stroke="#6a6a6a" stroke-width="0.7"/>
<line x1="293.1" y1="260.9" x2="293.1" y2="258.6" stroke="#6a6a6a" stroke-width="0.7"/>
<line x1="305.6" y1="260.9" x2="305.6" y2="258.6" stroke="#6a6a6a" stroke-width="0.7"/>
<line x1="318.1" y1="260.9" x2="318.1" y2="258.6" stroke="#6a6a6a" stroke-width="0.7"/>
<line x1="330.6" y1="260.9" x2="330.6" y2="258.6" stroke="#6a6a6a" stroke-width="0.7"/>
<line x1="343.1" y1="260.9" x2="343.1" y2="258.6" stroke="#6a6a6a" stroke-width="0.7"/>
<line x1="355.6" y1="260.9" x2="355.6" y2="258.6" stroke="#6a6a6a" stroke-width="0.7"/>
<line x1="368.1" y1="260.9" x2="368.1" y2="258.6" stroke="#6a6a6a" stroke-width="0.7"/>
<line x1="380.6" y1="260.9" x2="380.6" y2="258.6" stroke="#6a6a6a" stroke-width="0.7"/>
<line x1="393.1" y1="260.9" x2="393.1" y2="258.6" stroke="#6a6a6a" stroke-width="0.7"/>
<line x1="405.6" y1="260.9" x2="405.6" y2="258.6" stroke="#6a6a6a" stroke-width="0.7"/>
<line x1="418.1" y1="260.9" x2="418.1" y2="258.6" stroke="#6a6a6a" stroke-width="0.7"/>
<line x1="430.6" y1="260.9" x2="430.6" y2="258.6" stroke="#6a6a6a" stroke-width="0.7"/>
<line x1="443.1" y1="260.9" x2="443.1" y2="258.6" stroke="#6a6a6a" stroke-width="0.7"/>
<line x1="455.6" y1="260.9" x2="455.6" y2="258.6" stroke="#6a6a6a" stroke-width="0.7"/>
<line x1="468.1" y1="260.9" x2="468.1" y2="258.6" stroke="#6a6a6a" stroke-width="0.7"/>
<line x1="480.6" y1="260.9" x2="480.6" y2="258.6" stroke="#6a6a6a" stroke-width="0.7"/>
<line x1="493.1" y1="260.9" x2="493.1" y2="258.6" stroke="#6a6a6a" stroke-width="0.7"/>
<line x1="505.6" y1="260.9" x2="505.6" y2="258.6" stroke="#6a6a6a" stroke-width="0.7"/>
<text x="236" y="263.9" font-family="'Liberation Serif', serif" font-size="9" text-anchor="end" fill="#333" stroke="#333" font-weight="normal" font-style="normal">0</text>
<text x="236" y="227.98" font-family="'Liberation Serif', serif" font-size="9" text-anchor="end" fill="#333" stroke="#333" font-weight="normal" font-style="normal">5</text>
<text x="236" y="192.07" font-family="'Liberation Serif', serif" font-size="9" text-anchor="end" fill="#333" stroke="#333" font-weight="normal" font-style="normal">10</text>
<text x="236" y="156.15" font-family="'Liberation Serif', serif" font-size="9" text-anchor="end" fill="#333" stroke="#333" font-weight="normal" font-style="normal">15</text>
<text x="236" y="120.23" font-family="'Liberation Serif', serif" font-size="9" text-anchor="end" fill="#333" stroke="#333" font-weight="normal" font-style="normal">20</text>
<text x="236" y="84.32" font-family="'Liberation Serif', serif" font-size="9" text-anchor="end" fill="#333" stroke="#333" font-weight="normal" font-style="normal">25</text>
<text x="236" y="48.4" font-family="'Liberation Serif', serif" font-size="9" text-anchor="end" fill="#333" stroke="#333" font-weight="normal" font-style="normal">30</text>
<text x="514" y="263.9" font-family="'Liberation Serif', serif" font-size="9" text-anchor="start" fill="#333" stroke="#333" font-weight="normal" font-style="normal">0</text>
<text x="514" y="236.96" font-family="'Liberation Serif', serif" font-size="9" text-anchor="start" fill="#333" stroke="#333" font-weight="normal" font-style="normal">0.05</text>
<text x="514" y="210.02" font-family="'Liberation Serif', serif" font-size="9" text-anchor="start" fill="#333" stroke="#333" font-weight="normal" font-style="normal">0.1</text>
<text x="514" y="183.09" font-family="'Liberation Serif', serif" font-size="9" text-anchor="start" fill="#333" stroke="#333" font-weight="normal" font-style="normal">0.15</text>
<text x="514" y="156.15" font-family="'Liberation Serif', serif" font-size="9" text-anchor="start" fill="#333" stroke="#333" font-weight="normal" font-style="normal">0.2</text>
<text x="514" y="129.21" font-family="'Liberation Serif', serif" font-size="9" text-anchor="start" fill="#333" stroke="#333" font-weight="normal" font-style="normal">0.25</text>
<text x="514" y="102.27" font-family="'Liberation Serif', serif" font-size="9" text-anchor="start" fill="#333" stroke="#333" font-weight="normal" font-style="normal">0.3</text>
<text x="514" y="75.34" font-family="'Liberation Serif', serif" font-size="9" text-anchor="start" fill="#333" stroke="#333" font-weight="normal" font-style="normal">0.35</text>
<text x="514" y="48.4" font-family="'Liberation Serif', serif" font-size="9" text-anchor="start" fill="#333" stroke="#333" font-weight="normal" font-style="normal">0.4</text>
<text x="243.1" y="275.6" font-family="'Liberation Serif', serif" font-size="9" text-anchor="middle" fill="#333" stroke="#333" font-weight="normal" font-style="normal">0</text>
<text x="305.6" y="275.6" font-family="'Liberation Serif', serif" font-size="9" text-anchor="middle" fill="#333" stroke="#333" font-weight="normal" font-style="normal">5</text>
<text x="368.1" y="275.6" font-family="'Liberation Serif', serif" font-size="9" text-anchor="middle" fill="#333" stroke="#333" font-weight="normal" font-style="normal">10</text>
<text x="430.6" y="275.6" font-family="'Liberation Serif', serif" font-size="9" text-anchor="middle" fill="#333" stroke="#333" font-weight="normal" font-style="normal">15</text>
<text x="493.1" y="275.6" font-family="'Liberation Serif', serif" font-size="9" text-anchor="middle" fill="#333" stroke="#333" font-weight="normal" font-style="normal">20</text>
<text x="352.8" y="288.7" font-family="'Liberation Serif', serif" font-size="9.6" fill="#333">V<tspan font-size="6.2" dy="2">soft</tspan><tspan dy="-2" font-style="italic" font-size="10.2"> (%)</tspan></text>
<text x="221.6" y="153" font-family="'Liberation Serif', serif" font-size="9" fill="#333" text-anchor="middle" transform="rotate(-90 221.6 153)">Storage modulus <tspan font-style="italic">(MPa)</tspan></text>
<text x="543.3" y="153" font-family="'Liberation Serif', serif" font-size="9" fill="#333" text-anchor="middle" transform="rotate(-90 543.3 153)">Intrinsic damping <tspan font-style="italic">(-)</tspan></text>
<line x1="280.6" y1="174.7" x2="280.6" y2="196.25" stroke="#8a8a8a" stroke-width="0.8"/>
<line x1="278.6" y1="174.7" x2="282.6" y2="174.7" stroke="#8a8a8a" stroke-width="0.8"/>
<line x1="278.6" y1="196.25" x2="282.6" y2="196.25" stroke="#8a8a8a" stroke-width="0.8"/>
<line x1="305.6" y1="149.92" x2="305.6" y2="174.7" stroke="#8a8a8a" stroke-width="0.8"/>
<line x1="303.6" y1="149.92" x2="307.6" y2="149.92" stroke="#8a8a8a" stroke-width="0.8"/>
<line x1="303.6" y1="174.7" x2="307.6" y2="174.7" stroke="#8a8a8a" stroke-width="0.8"/>
<line x1="355.6" y1="101.97" x2="355.6" y2="132.14" stroke="#8a8a8a" stroke-width="0.8"/>
<line x1="353.6" y1="101.97" x2="357.6" y2="101.97" stroke="#8a8a8a" stroke-width="0.8"/>
<line x1="353.6" y1="132.14" x2="357.6" y2="132.14" stroke="#8a8a8a" stroke-width="0.8"/>
<line x1="380.6" y1="98.2" x2="380.6" y2="122.98" stroke="#8a8a8a" stroke-width="0.8"/>
<line x1="378.6" y1="98.2" x2="382.6" y2="98.2" stroke="#8a8a8a" stroke-width="0.8"/>
<line x1="378.6" y1="122.98" x2="382.6" y2="122.98" stroke="#8a8a8a" stroke-width="0.8"/>
<line x1="405.6" y1="86.88" x2="405.6" y2="107.36" stroke="#8a8a8a" stroke-width="0.8"/>
<line x1="403.6" y1="86.88" x2="407.6" y2="86.88" stroke="#8a8a8a" stroke-width="0.8"/>
<line x1="403.6" y1="107.36" x2="407.6" y2="107.36" stroke="#8a8a8a" stroke-width="0.8"/>
<line x1="493.1" y1="78.26" x2="493.1" y2="100.89" stroke="#8a8a8a" stroke-width="0.8"/>
<line x1="491.1" y1="78.26" x2="495.1" y2="78.26" stroke="#8a8a8a" stroke-width="0.8"/>
<line x1="491.1" y1="100.89" x2="495.1" y2="100.89" stroke="#8a8a8a" stroke-width="0.8"/>
<line x1="280.6" y1="162.13" x2="280.6" y2="170.03" stroke="#8a8a8a" stroke-width="0.8"/>
<line x1="278.6" y1="162.13" x2="282.6" y2="162.13" stroke="#8a8a8a" stroke-width="0.8"/>
<line x1="278.6" y1="170.03" x2="282.6" y2="170.03" stroke="#8a8a8a" stroke-width="0.8"/>
<line x1="305.6" y1="190.5" x2="305.6" y2="196.97" stroke="#8a8a8a" stroke-width="0.8"/>
<line x1="303.6" y1="190.5" x2="307.6" y2="190.5" stroke="#8a8a8a" stroke-width="0.8"/>
<line x1="303.6" y1="196.97" x2="307.6" y2="196.97" stroke="#8a8a8a" stroke-width="0.8"/>
<line x1="355.6" y1="216.36" x2="355.6" y2="220.67" stroke="#8a8a8a" stroke-width="0.8"/>
<line x1="353.6" y1="216.36" x2="357.6" y2="216.36" stroke="#8a8a8a" stroke-width="0.8"/>
<line x1="353.6" y1="220.67" x2="357.6" y2="220.67" stroke="#8a8a8a" stroke-width="0.8"/>
<line x1="405.6" y1="227.14" x2="405.6" y2="231.45" stroke="#8a8a8a" stroke-width="0.8"/>
<line x1="403.6" y1="227.14" x2="407.6" y2="227.14" stroke="#8a8a8a" stroke-width="0.8"/>
<line x1="403.6" y1="231.45" x2="407.6" y2="231.45" stroke="#8a8a8a" stroke-width="0.8"/>
<polyline points="243.1,66.95 280.6,166.08 305.6,193.74 355.6,218.52 380.6,224.98 405.6,229.29 493.1,239.71" fill="none" stroke="#4472c4" stroke-width="1.5"/>
<polyline points="243.1,220.22 280.6,185.47 305.6,162.31 355.6,117.05 380.6,110.59 405.6,97.12 493.1,89.58" fill="none" stroke="#ed7d31" stroke-width="1.5"/>
<circle cx="243.1" cy="66.95" r="2.2" fill="#4472c4"/>
<circle cx="280.6" cy="166.08" r="2.2" fill="#4472c4"/>
<circle cx="305.6" cy="193.74" r="2.2" fill="#4472c4"/>
<circle cx="355.6" cy="218.52" r="2.2" fill="#4472c4"/>
<circle cx="380.6" cy="224.98" r="2.2" fill="#4472c4"/>
<circle cx="405.6" cy="229.29" r="2.2" fill="#4472c4"/>
<circle cx="493.1" cy="239.71" r="2.2" fill="#4472c4"/>
<circle cx="243.1" cy="220.22" r="2.2" fill="#ed7d31"/>
<circle cx="280.6" cy="185.47" r="2.2" fill="#ed7d31"/>
<circle cx="305.6" cy="162.31" r="2.2" fill="#ed7d31"/>
<circle cx="355.6" cy="117.05" r="2.2" fill="#ed7d31"/>
<circle cx="380.6" cy="110.59" r="2.2" fill="#ed7d31"/>
<circle cx="405.6" cy="97.12" r="2.2" fill="#ed7d31"/>
<circle cx="493.1" cy="89.58" r="2.2" fill="#ed7d31"/>
<line x1="252.6" y1="36.4" x2="266.2" y2="36.4" stroke="#4472c4" stroke-width="1.4"/>
<circle cx="252.6" cy="36.4" r="2.6" fill="#4472c4"/><circle cx="266.2" cy="36.4" r="2.6" fill="#4472c4"/>
<text x="274.8" y="39.4" font-family="'Liberation Serif', serif" font-size="8.8" text-anchor="start" fill="#333" stroke="#333" font-weight="normal" font-style="normal">Storage modulus</text>
<line x1="424.5" y1="36.4" x2="438.1" y2="36.4" stroke="#ed7d31" stroke-width="1.4"/>
<circle cx="424.5" cy="36.4" r="2.6" fill="#ed7d31"/><circle cx="438.1" cy="36.4" r="2.6" fill="#ed7d31"/>
<text x="446" y="39.4" font-family="'Liberation Serif', serif" font-size="8.8" text-anchor="start" fill="#333" stroke="#333" font-weight="normal" font-style="normal">Intrinsic damping</text>
<rect x="212" y="306.5" width="118.5" height="99.4" fill="#e0e0e0" stroke="none" stroke-width="1"/>
<g clip-path="url(#p1body)">
<rect x="212" y="306" width="120" height="101" fill="#424242" stroke="none" stroke-width="1"/>
<polygon points="213,318 222,318 222,406 213,406" fill="#9a9a9a" stroke="none" stroke-width="1"/>
<polygon points="318,325 330,341 328,406 320,406" fill="#8e8e8e" stroke="none" stroke-width="1"/>
<line x1="74" y1="410" x2="160.96" y2="310" stroke="#80807c" stroke-width="3.6"/>
<line x1="95" y1="410" x2="181.96" y2="310" stroke="#80807c" stroke-width="3.6"/>
<line x1="116" y1="410" x2="202.96" y2="310" stroke="#80807c" stroke-width="3.6"/>
<line x1="137" y1="410" x2="223.96" y2="310" stroke="#80807c" stroke-width="3.6"/>
<line x1="158" y1="410" x2="244.96" y2="310" stroke="#80807c" stroke-width="3.6"/>
<line x1="179" y1="410" x2="265.96" y2="310" stroke="#80807c" stroke-width="3.6"/>
<line x1="200" y1="410" x2="286.96" y2="310" stroke="#80807c" stroke-width="3.6"/>
<line x1="221" y1="410" x2="307.96" y2="310" stroke="#80807c" stroke-width="3.6"/>
<line x1="242" y1="410" x2="328.96" y2="310" stroke="#80807c" stroke-width="3.6"/>
<line x1="263" y1="410" x2="349.96" y2="310" stroke="#80807c" stroke-width="3.6"/>
<line x1="284" y1="410" x2="370.96" y2="310" stroke="#80807c" stroke-width="3.6"/>
<line x1="305" y1="410" x2="391.96" y2="310" stroke="#80807c" stroke-width="3.6"/>
<line x1="326" y1="410" x2="412.96" y2="310" stroke="#80807c" stroke-width="3.6"/>
<line x1="347" y1="410" x2="433.96" y2="310" stroke="#80807c" stroke-width="3.6"/>
<line x1="368" y1="410" x2="454.96" y2="310" stroke="#80807c" stroke-width="3.6"/>
<line x1="389" y1="410" x2="475.96" y2="310" stroke="#80807c" stroke-width="3.6"/>
<line x1="410" y1="410" x2="496.96" y2="310" stroke="#80807c" stroke-width="3.6"/>
<line x1="431" y1="410" x2="517.96" y2="310" stroke="#80807c" stroke-width="3.6"/>
<line x1="212" y1="300" x2="332" y2="332.4" stroke="#787874" stroke-width="2.9"/>
<line x1="212" y1="309.8" x2="332" y2="342.2" stroke="#787874" stroke-width="2.9"/>
<line x1="212" y1="319.6" x2="332" y2="352" stroke="#787874" stroke-width="2.9"/>
<line x1="212" y1="329.4" x2="332" y2="361.8" stroke="#787874" stroke-width="2.9"/>
<line x1="212" y1="339.2" x2="332" y2="371.6" stroke="#787874" stroke-width="2.9"/>
<line x1="212" y1="349" x2="332" y2="381.4" stroke="#787874" stroke-width="2.9"/>
<line x1="212" y1="358.8" x2="332" y2="391.2" stroke="#787874" stroke-width="2.9"/>
<line x1="212" y1="368.6" x2="332" y2="401" stroke="#787874" stroke-width="2.9"/>
<line x1="212" y1="378.4" x2="332" y2="410.8" stroke="#787874" stroke-width="2.9"/>
<line x1="212" y1="388.2" x2="332" y2="420.6" stroke="#787874" stroke-width="2.9"/>
<line x1="212" y1="398" x2="332" y2="430.4" stroke="#787874" stroke-width="2.9"/>
<line x1="44" y1="330" x2="124" y2="410" stroke="#70706c" stroke-width="2.8"/>
<line x1="65" y1="330" x2="145" y2="410" stroke="#70706c" stroke-width="2.8"/>
<line x1="86" y1="330" x2="166" y2="410" stroke="#70706c" stroke-width="2.8"/>
<line x1="107" y1="330" x2="187" y2="410" stroke="#70706c" stroke-width="2.8"/>
<line x1="128" y1="330" x2="208" y2="410" stroke="#70706c" stroke-width="2.8"/>
<line x1="149" y1="330" x2="229" y2="410" stroke="#70706c" stroke-width="2.8"/>
<line x1="170" y1="330" x2="250" y2="410" stroke="#70706c" stroke-width="2.8"/>
<line x1="191" y1="330" x2="271" y2="410" stroke="#70706c" stroke-width="2.8"/>
<line x1="212" y1="330" x2="292" y2="410" stroke="#70706c" stroke-width="2.8"/>
<line x1="233" y1="330" x2="313" y2="410" stroke="#70706c" stroke-width="2.8"/>
<line x1="254" y1="330" x2="334" y2="410" stroke="#70706c" stroke-width="2.8"/>
<line x1="275" y1="330" x2="355" y2="410" stroke="#70706c" stroke-width="2.8"/>
<line x1="296" y1="330" x2="376" y2="410" stroke="#70706c" stroke-width="2.8"/>
<line x1="317" y1="330" x2="397" y2="410" stroke="#70706c" stroke-width="2.8"/>
<line x1="338" y1="330" x2="418" y2="410" stroke="#70706c" stroke-width="2.8"/>
<line x1="359" y1="330" x2="439" y2="410" stroke="#70706c" stroke-width="2.8"/>
</g>
<rect x="270.9" y="345.4" width="31.9" height="34.2" fill="none" stroke="#e8b418" stroke-width="1.4" stroke-dasharray="3.2,1.8"/>
<line x1="302.8" y1="345.4" x2="340.5" y2="306.5" stroke="#e8b418" stroke-width="1.2" stroke-dasharray="3.2,1.8"/>
<line x1="302.8" y1="379.6" x2="340.5" y2="406.7" stroke="#e8b418" stroke-width="1.2" stroke-dasharray="3.2,1.8"/>
<rect x="340.5" y="306.5" width="110" height="100.2" fill="url(#p2bg)" stroke="none" stroke-width="1"/>
<g clip-path="url(#p2clip)">
<line x1="300" y1="244" x2="500" y2="444" stroke="#2c2e36" stroke-width="6"/>
<line x1="300" y1="480" x2="500" y2="280" stroke="#2c2e36" stroke-width="6"/>
<line x1="300" y1="360" x2="500" y2="560" stroke="#2c2e36" stroke-width="6"/>
<line x1="300" y1="360" x2="500" y2="160" stroke="#2c2e36" stroke-width="6"/>
<line x1="300" y1="172" x2="500" y2="372" stroke="#2c2e36" stroke-width="6"/>
<line x1="300" y1="550" x2="500" y2="350" stroke="#2c2e36" stroke-width="6"/>
<line x1="300" y1="205" x2="500" y2="405" stroke="#34363f" stroke-width="7.5"/>
<line x1="300" y1="326" x2="500" y2="526" stroke="#34363f" stroke-width="7.5"/>
<line x1="300" y1="395.7" x2="500" y2="195.7" stroke="#34363f" stroke-width="7.5"/>
<line x1="300" y1="515" x2="500" y2="315" stroke="#34363f" stroke-width="7.5"/>
<line x1="340" y1="361.4" x2="451" y2="361.4" stroke="#383a44" stroke-width="8.5"/>
<line x1="391.5" y1="306" x2="390" y2="407" stroke="#3c3e48" stroke-width="7"/>
<line x1="400.5" y1="306" x2="399.5" y2="407" stroke="#3a3c46" stroke-width="7"/>
<line x1="300" y1="273.3" x2="500" y2="473.3" stroke="#434753" stroke-width="9"/>
<line x1="300" y1="451" x2="500" y2="251" stroke="#434753" stroke-width="9"/>
<line x1="300" y1="273.3" x2="500" y2="473.3" stroke="#5a5e6c" stroke-width="2.2"/>
<line x1="300" y1="451" x2="500" y2="251" stroke="#5a5e6c" stroke-width="2.2"/>
</g>
<text x="345.6" y="396" font-family="'Liberation Sans', sans-serif" font-size="8.2" text-anchor="start" fill="#ffffff" stroke="#ffffff" font-weight="normal" font-style="normal">4 mm</text>
<rect x="345" y="399.8" width="23" height="2" fill="#ffffff" stroke="none" stroke-width="1"/>
<rect x="406.2" y="381.3" width="24.8" height="17.8" fill="none" stroke="#e8b418" stroke-width="1.4" stroke-dasharray="3.2,1.8"/>
<line x1="431" y1="381.3" x2="465" y2="330.5" stroke="#e8b418" stroke-width="1.2" stroke-dasharray="3.2,1.8"/>
<line x1="431" y1="399.1" x2="465" y2="391.6" stroke="#e8b418" stroke-width="1.2" stroke-dasharray="3.2,1.8"/>
<rect x="465" y="329.7" width="85.6" height="61.9" fill="url(#p3bg)" stroke="none" stroke-width="1"/>
<g clip-path="url(#p3clip)">
<polygon points="465,329.7 492,329.7 551,383 551,392 508,392 465,352" fill="url(#p3st)" stroke="none" stroke-width="1"/>
<polygon points="492,329.7 551,329.7 551,383" fill="#b9bfc4" stroke="none" stroke-width="1"/>
</g>
<polygon points="468.9,353.3 516.6,353.3 540,373.4 491.6,373.4" fill="none" stroke="#e8b418" stroke-width="1.4" stroke-dasharray="3.2,1.8"/>
<rect x="516.3" y="331.3" width="33.1" height="24.3" fill="#ffffff" stroke="#111" stroke-width="1.0"/>
<text x="532.8" y="341.8" font-family="'Liberation Sans', sans-serif" font-size="7.6" text-anchor="middle" fill="#111" stroke="#111" font-weight="normal" font-style="normal">Soft</text>
<text x="532.8" y="350.5" font-family="'Liberation Sans', sans-serif" font-size="7.6" text-anchor="middle" fill="#111" stroke="#111" font-weight="normal" font-style="normal">phase</text>
<line x1="517" y1="345" x2="505" y2="354" stroke="#111" stroke-width="0.7"/>
<rect x="561" y="27.3" width="196.8" height="397.7" fill="none" stroke="#1a1a1a" stroke-width="1.45" stroke-dasharray="3.4,1.3"/>
<text x="557" y="21" font-family="'Liberation Serif', serif" font-size="19" text-anchor="start" fill="#111" stroke="#111" font-weight="normal" font-style="normal">(c)</text>
<rect x="605.4" y="32.4" width="8" height="7.6" fill="#4472c4" stroke="none" stroke-width="1"/>
<text x="619.2" y="39.6" font-family="'Liberation Serif', serif" font-size="9.5" text-anchor="start" fill="#222" stroke="#222" font-weight="normal" font-style="normal">Hexagonal</text>
<rect x="697.5" y="32.4" width="7.9" height="7.6" fill="#ed7d31" stroke="none" stroke-width="1"/>
<text x="711.1" y="39.6" font-family="'Liberation Serif', serif" font-size="9.5" text-anchor="start" fill="#222" stroke="#222" font-weight="normal" font-style="normal">Re-entrant</text>
<rect x="615.9" y="96.31" width="13.6" height="17.09" fill="#4472c4" stroke="none" stroke-width="1"/>
<rect x="629.5" y="86.32" width="13.6" height="27.08" fill="#ed7d31" stroke="none" stroke-width="1"/>
<rect x="664.3" y="86.32" width="13.9" height="27.08" fill="#4472c4" stroke="none" stroke-width="1"/>
<rect x="678.2" y="58.34" width="14.5" height="55.06" fill="#ed7d31" stroke="none" stroke-width="1"/>
<rect x="713.7" y="88.31" width="13.9" height="25.09" fill="#4472c4" stroke="none" stroke-width="1"/>
<rect x="727.6" y="65" width="13.8" height="48.4" fill="#ed7d31" stroke="none" stroke-width="1"/>
<rect x="605.1" y="46.8" width="146.9" height="66.6" fill="none" stroke="#7f7f7f" stroke-width="1.0"/>
<text x="596.6" y="116.8" font-family="'Liberation Serif', serif" font-size="9.8" text-anchor="end" fill="#222" stroke="#222" font-weight="normal" font-style="normal">0</text>
<text x="596.6" y="94.6" font-family="'Liberation Serif', serif" font-size="9.8" text-anchor="end" fill="#222" stroke="#222" font-weight="normal" font-style="normal">1</text>
<text x="596.6" y="72.4" font-family="'Liberation Serif', serif" font-size="9.8" text-anchor="end" fill="#222" stroke="#222" font-weight="normal" font-style="normal">2</text>
<text x="596.6" y="50.2" font-family="'Liberation Serif', serif" font-size="9.8" text-anchor="end" fill="#222" stroke="#222" font-weight="normal" font-style="normal">3</text>
<text x="574.4" y="80" font-family="'Liberation Serif', serif" font-size="9.8" fill="#222" text-anchor="middle" transform="rotate(-90 574.4 80)">Compressive</text>
<text x="586.3" y="80" font-family="'Liberation Serif', serif" font-size="9.8" fill="#222" text-anchor="middle" transform="rotate(-90 586.3 80)">strength <tspan font-style="italic">(MPa)</tspan></text>
<rect x="613" y="199.83" width="14.3" height="17.57" fill="#4472c4" stroke="none" stroke-width="1"/>
<rect x="627.3" y="191.97" width="14.6" height="25.43" fill="#ed7d31" stroke="none" stroke-width="1"/>
<rect x="663.2" y="176.67" width="14" height="40.73" fill="#4472c4" stroke="none" stroke-width="1"/>
<rect x="677.2" y="140.9" width="14.6" height="76.5" fill="#ed7d31" stroke="none" stroke-width="1"/>
<rect x="713" y="178.53" width="14" height="38.87" fill="#4472c4" stroke="none" stroke-width="1"/>
<rect x="727" y="145.86" width="14.4" height="71.54" fill="#ed7d31" stroke="none" stroke-width="1"/>
<rect x="602.6" y="134.7" width="149.4" height="82.7" fill="none" stroke="#7f7f7f" stroke-width="1.0"/>
<text x="595.2" y="220.8" font-family="'Liberation Serif', serif" font-size="9.8" text-anchor="end" fill="#222" stroke="#222" font-weight="normal" font-style="normal">0</text>
<text x="595.2" y="200.12" font-family="'Liberation Serif', serif" font-size="9.8" text-anchor="end" fill="#222" stroke="#222" font-weight="normal" font-style="normal">10</text>
<text x="595.2" y="179.45" font-family="'Liberation Serif', serif" font-size="9.8" text-anchor="end" fill="#222" stroke="#222" font-weight="normal" font-style="normal">20</text>
<text x="595.2" y="158.78" font-family="'Liberation Serif', serif" font-size="9.8" text-anchor="end" fill="#222" stroke="#222" font-weight="normal" font-style="normal">30</text>
<text x="595.2" y="138.1" font-family="'Liberation Serif', serif" font-size="9.8" text-anchor="end" fill="#222" stroke="#222" font-weight="normal" font-style="normal">40</text>
<text x="571.8" y="174.5" font-family="'Liberation Serif', serif" font-size="9.8" fill="#222" text-anchor="middle" transform="rotate(-90 571.8 174.5)">Uniaxial</text>
<text x="583" y="174" font-family="'Liberation Serif', serif" font-size="9.8" fill="#222" text-anchor="middle" transform="rotate(-90 583 174)">modulus <tspan font-style="italic">(MPa)</tspan></text>
<rect x="614" y="271.74" width="14" height="43.96" fill="#4472c4" stroke="none" stroke-width="1"/>
<rect x="628" y="268.24" width="13.9" height="47.46" fill="#ed7d31" stroke="none" stroke-width="1"/>
<rect x="663.6" y="264.61" width="14.3" height="51.09" fill="#4472c4" stroke="none" stroke-width="1"/>
<rect x="677.9" y="240.02" width="13.9" height="75.68" fill="#ed7d31" stroke="none" stroke-width="1"/>
<rect x="713" y="269.97" width="14" height="45.73" fill="#4472c4" stroke="none" stroke-width="1"/>
<rect x="727" y="247.6" width="14.4" height="68.1" fill="#ed7d31" stroke="none" stroke-width="1"/>
<rect x="603.4" y="233.3" width="148.6" height="82.4" fill="none" stroke="#7f7f7f" stroke-width="1.0"/>
<text x="595.6" y="319.1" font-family="'Liberation Serif', serif" font-size="9.8" text-anchor="end" fill="#222" stroke="#222" font-weight="normal" font-style="normal">0</text>
<text x="595.6" y="298.5" font-family="'Liberation Serif', serif" font-size="9.8" text-anchor="end" fill="#222" stroke="#222" font-weight="normal" font-style="normal">500</text>
<text x="595.6" y="277.9" font-family="'Liberation Serif', serif" font-size="9.8" text-anchor="end" fill="#222" stroke="#222" font-weight="normal" font-style="normal">1000</text>
<text x="595.6" y="257.3" font-family="'Liberation Serif', serif" font-size="9.8" text-anchor="end" fill="#222" stroke="#222" font-weight="normal" font-style="normal">1500</text>
<text x="595.6" y="236.7" font-family="'Liberation Serif', serif" font-size="9.8" text-anchor="end" fill="#222" stroke="#222" font-weight="normal" font-style="normal">2000</text>
<text x="574" y="265.8" font-family="'Liberation Serif', serif" font-size="9.8" fill="#222" text-anchor="middle" transform="rotate(-90 574 265.8)">SEA <tspan font-style="italic">(J/kg)</tspan></text>
<text x="626" y="125.8" font-family="'Liberation Serif', serif" font-size="9.5" text-anchor="middle" fill="#222" stroke="#222" font-weight="normal" font-style="normal">Nylon</text>
<text x="676.6" y="125.8" font-family="'Liberation Serif', serif" font-size="9.5" text-anchor="middle" fill="#222" stroke="#222" font-weight="normal" font-style="normal">Nylon + CF</text>
<text x="730.3" y="125.8" font-family="'Liberation Serif', serif" font-size="9.5" text-anchor="middle" fill="#222" stroke="#222" font-weight="normal" font-style="normal">Nylon + GF</text>
<g clip-path="url(#dgl)">
<polygon points="560,356.25 585,349.05 612.7,359.25 640.7,349.05 666,356.25 666,366.75 640.7,359.55 612.7,369.75 585,359.55 560,366.75" fill="#d6d5bf" stroke="none" stroke-width="1"/>
<polygon points="560,398.05 585,405.05 612.7,395.05 640.7,405.05 666,398.05 666,408.55 640.7,415.55 612.7,405.55 585,415.55 560,408.55" fill="#d6d5bf" stroke="none" stroke-width="1"/>
<polygon points="579.4,349 585,345.8 590.6,349 590.6,415.5 585,418.8 579.4,415.5" fill="#4d8c8c" stroke="none" stroke-width="1"/>
<polygon points="635.1,349 640.7,345.8 646.3,349 646.3,415.5 640.7,418.8 635.1,415.5" fill="#4d8c8c" stroke="none" stroke-width="1"/>
<polygon points="607.1,344.3 618.3,344.3 618.3,368 612.7,370.8 607.1,368" fill="#4d8c8c" stroke="none" stroke-width="1"/>
<polygon points="607.1,396.8 612.7,394 618.3,396.8 618.3,421.1 607.1,421.1" fill="#4d8c8c" stroke="none" stroke-width="1"/>
</g>
<line x1="595.3" y1="359.3" x2="595.3" y2="404" stroke="#111" stroke-width="0.8"/>
<line x1="591" y1="359.5" x2="600" y2="359.5" stroke="#111" stroke-width="0.5"/>
<line x1="591" y1="405.2" x2="600" y2="405.2" stroke="#111" stroke-width="0.5"/>
<text x="598.2" y="384.5" font-family="'Liberation Serif', serif" font-size="7.5" text-anchor="start" fill="#111" stroke="#111" font-weight="normal" font-style="normal">h</text>
<line x1="617.5" y1="375.5" x2="638" y2="365" stroke="#111" stroke-width="0.8"/>
<line x1="614.5" y1="370.5" x2="617.5" y2="378" stroke="#111" stroke-width="0.5"/>
<text x="626.5" y="377.8" font-family="'Liberation Serif', serif" font-size="7.5" text-anchor="start" fill="#111" stroke="#111" font-weight="normal" font-style="normal">ℓ</text>
<line x1="624" y1="355" x2="628.5" y2="362.5" stroke="#111" stroke-width="0.8"/>
<text x="621.4" y="354.6" font-family="'Liberation Serif', serif" font-size="7.5" text-anchor="start" fill="#111" stroke="#111" font-weight="normal" font-style="normal">t</text>
<line x1="620" y1="405.2" x2="635" y2="405.2" stroke="#111" stroke-width="0.5"/>
<text x="621" y="397.6" font-family="'Liberation Serif', serif" font-size="7.5" text-anchor="start" fill="#111" stroke="#111" font-weight="normal" font-style="normal">θ</text>
<path d="M623.8,400.3 Q622.2,403 623.8,405.2" fill="none" stroke="#111" stroke-width="0.6"/>
<g clip-path="url(#dgr)">
<polygon points="660,349.85 684.9,357.05 712.7,346.85 740.8,357.05 766,349.85 766,361.35 740.8,368.55 712.7,358.35 684.9,368.55 660,361.35" fill="#d6d5bf" stroke="none" stroke-width="1"/>
<polygon points="660,403.25 684.9,396.05 712.7,406.25 740.8,396.05 766,403.25 766,414.75 740.8,407.55 712.7,417.75 684.9,407.55 660,414.75" fill="#d6d5bf" stroke="none" stroke-width="1"/>
<polygon points="679.5,356.9 684.85,360.3 690.2,356.9 690.2,407.7 684.85,404.3 679.5,407.7" fill="#4d8c8c" stroke="none" stroke-width="1"/>
<polygon points="735.5,356.9 740.85,360.3 746.2,356.9 746.2,407.7 740.85,404.3 735.5,407.7" fill="#4d8c8c" stroke="none" stroke-width="1"/>
<polygon points="707.1,343.9 718.3,343.9 718.3,356.3 712.7,353.8 707.1,356.3" fill="#4d8c8c" stroke="none" stroke-width="1"/>
<polygon points="707.1,408.2 712.7,405.7 718.3,408.2 718.3,421.1 707.1,421.1" fill="#4d8c8c" stroke="none" stroke-width="1"/>
</g>
<line x1="696.3" y1="369.5" x2="696.3" y2="394.5" stroke="#111" stroke-width="0.8"/>
<line x1="691" y1="369.2" x2="699.5" y2="369.2" stroke="#111" stroke-width="0.5"/>
<line x1="691" y1="394.8" x2="699.5" y2="394.8" stroke="#111" stroke-width="0.5"/>
<text x="698.3" y="385" font-family="'Liberation Serif', serif" font-size="7.5" text-anchor="start" fill="#111" stroke="#111" font-weight="normal" font-style="normal">h</text>
<line x1="712" y1="360.5" x2="731.5" y2="370" stroke="#111" stroke-width="0.8"/>
<line x1="710.5" y1="363.5" x2="713.5" y2="356.5" stroke="#111" stroke-width="0.5"/>
<line x1="729.5" y1="373.5" x2="732.5" y2="367" stroke="#111" stroke-width="0.5"/>
<text x="719" y="374" font-family="'Liberation Serif', serif" font-size="7.5" text-anchor="start" fill="#111" stroke="#111" font-weight="normal" font-style="normal">ℓ</text>
<line x1="694.5" y1="355.5" x2="699.5" y2="362" stroke="#111" stroke-width="0.8"/>
<text x="694" y="354" font-family="'Liberation Serif', serif" font-size="7.5" text-anchor="start" fill="#111" stroke="#111" font-weight="normal" font-style="normal">t</text>
<line x1="722" y1="395.2" x2="735.5" y2="395.2" stroke="#111" stroke-width="0.5"/>
<text x="717" y="402" font-family="'Liberation Serif', serif" font-size="7.5" text-anchor="start" fill="#111" stroke="#111" font-weight="normal" font-style="normal">θ</text>
<path d="M724.2,395.6 Q723.2,398 725.2,400.3" fill="none" stroke="#111" stroke-width="0.6"/>
<text x="676" y="337.3" font-family="'Liberation Serif', serif" font-size="4.2" text-anchor="middle" fill="#333" font-weight="normal" font-style="normal">Vertical ligament</text>
<text x="675.5" y="342.4" font-family="'Liberation Serif', serif" font-size="4.2" text-anchor="middle" fill="#333" font-weight="normal" font-style="normal">(Fibre reinforced Nylon)</text>
<text x="737" y="337.3" font-family="'Liberation Serif', serif" font-size="4.2" text-anchor="middle" fill="#333" font-weight="normal" font-style="normal">Inclined ligament</text>
<text x="737" y="342.4" font-family="'Liberation Serif', serif" font-size="4.2" text-anchor="middle" fill="#333" font-weight="normal" font-style="normal">(Nylon)</text>
<line x1="654.5" y1="344.5" x2="643.5" y2="350" stroke="#111" stroke-width="0.6"/>
<line x1="735" y1="346" x2="730" y2="353" stroke="#111" stroke-width="0.6"/>
<rect x="11.5" y="435.6" width="746.1" height="399" fill="none" stroke="#1a1a1a" stroke-width="1.45" stroke-dasharray="3.4,1.3"/>
<text x="11.8" y="455.4" font-family="'Liberation Serif', serif" font-size="19.5" text-anchor="start" fill="#111" stroke="#111" font-weight="normal" font-style="normal">(d)</text>
<rect x="91" y="440" width="128" height="117" fill="#fafafa" stroke="none" stroke-width="1"/>
<line x1="151.5" y1="453.2" x2="151.5" y2="513" stroke="#9090e8" stroke-width="0.6"/>
<line x1="151.5" y1="513" x2="100.5" y2="533.4" stroke="#9090e8" stroke-width="0.6"/>
<line x1="151.5" y1="513" x2="199" y2="533.4" stroke="#9090e8" stroke-width="0.6"/>
<ellipse cx="149.5" cy="504.5" rx="43" ry="39.5" fill="url(#gOpen)"/>
<ellipse cx="148.9" cy="538.8" rx="24" ry="5.2" fill="#585858"/>
<ellipse cx="148.2" cy="472.9" rx="24.8" ry="9.6" fill="#929292"/>
<ellipse cx="148" cy="474" rx="17.2" ry="6.6" fill="#606060"/>
<ellipse cx="148" cy="475.6" rx="13" ry="4.2" fill="#6e6e6e"/>
<ellipse cx="123.5" cy="511.5" rx="17.2" ry="21.5" fill="#8a8a8a"/>
<ellipse cx="123.5" cy="513" rx="11.8" ry="16.3" fill="url(#gTun)"/>
<ellipse cx="123.6" cy="503.4" rx="6.4" ry="5.4" fill="#ffffff"/>
<ellipse cx="172.9" cy="513" rx="18.9" ry="21.5" fill="url(#gRing)"/>
<ellipse cx="173.2" cy="512.5" rx="13.7" ry="18.2" fill="url(#gTunR)"/>
<ellipse cx="175.4" cy="503.6" rx="6.6" ry="5.2" fill="#ffffff"/>
<line x1="151.5" y1="453.2" x2="98.7" y2="473.3" stroke="#9090e8" stroke-width="0.6"/>
<line x1="151.5" y1="453.2" x2="199" y2="473.3" stroke="#9090e8" stroke-width="0.6"/>
<line x1="98.7" y1="473.3" x2="147" y2="493.3" stroke="#9090e8" stroke-width="0.6"/>
<line x1="199" y1="473.3" x2="147" y2="493.3" stroke="#9090e8" stroke-width="0.6"/>
<line x1="98.7" y1="473.3" x2="100.5" y2="533.4" stroke="#9090e8" stroke-width="0.6"/>
<line x1="199" y1="473.3" x2="199" y2="533.4" stroke="#9090e8" stroke-width="0.6"/>
<line x1="147" y1="493.3" x2="147" y2="553.5" stroke="#9090e8" stroke-width="0.6"/>
<line x1="100.5" y1="533.4" x2="147" y2="553.5" stroke="#9090e8" stroke-width="0.6"/>
<line x1="199" y1="533.4" x2="147" y2="553.5" stroke="#9090e8" stroke-width="0.6"/>
<line x1="137.5" y1="476.5" x2="147" y2="473" stroke="#5555cc" stroke-width="0.6"/>
<line x1="147" y1="473" x2="160.5" y2="477.5" stroke="#5555cc" stroke-width="0.6"/>
<text x="137.9" y="475.6" font-family="'Liberation Serif', serif" font-size="9.5" text-anchor="middle" fill="#111" stroke="#111" font-weight="normal" font-style="normal">r<tspan font-size="6.8" dy="0.5">2</tspan></text>
<text x="159.2" y="475.6" font-family="'Liberation Serif', serif" font-size="9.5" text-anchor="middle" fill="#111" stroke="#111" font-weight="normal" font-style="normal">r<tspan font-size="6.8" dy="0.5">1</tspan></text>
<line x1="96" y1="466.4" x2="147.9" y2="446.8" stroke="#222" stroke-width="0.7" stroke-dasharray="2,1.3"/>
<polygon points="96,466.4 99.97,462.76 101.38,466.5" fill="#111" stroke="none" stroke-width="1"/>
<polygon points="147.9,446.8 143.93,450.44 142.52,446.7" fill="#111" stroke="none" stroke-width="1"/>
<line x1="157.9" y1="447.8" x2="201.7" y2="465" stroke="#222" stroke-width="0.7" stroke-dasharray="2,1.3"/>
<polygon points="157.9,447.8 163.29,447.77 161.82,451.49" fill="#111" stroke="none" stroke-width="1"/>
<polygon points="201.7,465 196.31,465.03 197.78,461.31" fill="#111" stroke="none" stroke-width="1"/>
<line x1="203.5" y1="472.4" x2="203.5" y2="532.5" stroke="#222" stroke-width="0.7" stroke-dasharray="2,1.3"/>
<polygon points="203.5,472.4 205.5,477.4 201.5,477.4" fill="#111" stroke="none" stroke-width="1"/>
<polygon points="203.5,532.5 201.5,527.5 205.5,527.5" fill="#111" stroke="none" stroke-width="1"/>
<text x="118.7" y="455" font-family="'Liberation Serif', serif" font-size="12.5" text-anchor="middle" fill="#111" stroke="#111" font-weight="bold" font-style="normal">X</text>
<text x="180.7" y="454.1" font-family="'Liberation Serif', serif" font-size="12.5" text-anchor="middle" fill="#111" stroke="#111" font-weight="bold" font-style="normal">Y</text>
<text x="213" y="506.8" font-family="'Liberation Serif', serif" font-size="12.5" text-anchor="middle" fill="#111" stroke="#111" font-weight="bold" font-style="normal">Z</text>
<rect x="324" y="440" width="126" height="120" fill="#fafafa" stroke="none" stroke-width="1"/>
<ellipse cx="379.5" cy="468" rx="22.57" ry="21.5" fill="url(#gBlue)"/>
<ellipse cx="380.57" cy="452.52" rx="11.18" ry="4.51" fill="#93b7d0"/>
<ellipse cx="380.57" cy="452.95" rx="8.17" ry="3.01" fill="#557e9e"/>
<ellipse cx="421.3" cy="478.3" rx="22.57" ry="21.5" fill="url(#gBlue)"/>
<ellipse cx="422.38" cy="462.82" rx="11.18" ry="4.51" fill="#93b7d0"/>
<ellipse cx="422.38" cy="463.25" rx="8.17" ry="3.01" fill="#557e9e"/>
<ellipse cx="434.63" cy="480.88" rx="7.1" ry="12.47" fill="#6a93b2"/>
<ellipse cx="434.63" cy="480.45" rx="4.73" ry="9.68" fill="#5880a0"/>
<ellipse cx="433.77" cy="477.87" rx="2.79" ry="4.73" fill="#ffffff"/>
<ellipse cx="354.4" cy="483" rx="24.68" ry="23.5" fill="url(#gBlue)"/>
<ellipse cx="355.57" cy="466.08" rx="12.22" ry="4.93" fill="#93b7d0"/>
<ellipse cx="355.57" cy="466.55" rx="8.93" ry="3.29" fill="#557e9e"/>
<ellipse cx="343.82" cy="485.82" rx="11.75" ry="14.1" fill="#6a93b2"/>
<ellipse cx="343.12" cy="485.35" rx="8.46" ry="11.04" fill="#5880a0"/>
<ellipse cx="341.47" cy="482.53" rx="5.17" ry="5.64" fill="#ffffff"/>
<ellipse cx="422.5" cy="516.5" rx="22.57" ry="21.5" fill="url(#gBlue)"/>
<ellipse cx="435.83" cy="519.08" rx="7.1" ry="12.47" fill="#6a93b2"/>
<ellipse cx="435.83" cy="518.65" rx="4.73" ry="9.68" fill="#5880a0"/>
<ellipse cx="434.97" cy="516.07" rx="2.79" ry="4.73" fill="#ffffff"/>
<ellipse cx="353.5" cy="521" rx="24.15" ry="23" fill="url(#gBlue)"/>
<ellipse cx="343.15" cy="523.76" rx="11.5" ry="13.8" fill="#6a93b2"/>
<ellipse cx="342.46" cy="523.3" rx="8.28" ry="10.81" fill="#5880a0"/>
<ellipse cx="340.85" cy="520.54" rx="5.06" ry="5.52" fill="#ffffff"/>
<ellipse cx="392" cy="531" rx="25.2" ry="24" fill="url(#gBlue)"/>
<ellipse cx="381.2" cy="533.88" rx="12" ry="14.4" fill="#6a93b2"/>
<ellipse cx="380.48" cy="533.4" rx="8.64" ry="11.28" fill="#5880a0"/>
<ellipse cx="378.8" cy="530.52" rx="5.28" ry="5.76" fill="#ffffff"/>
<ellipse cx="406.88" cy="533.88" rx="7.92" ry="13.92" fill="#6a93b2"/>
<ellipse cx="406.88" cy="533.4" rx="5.28" ry="10.8" fill="#5880a0"/>
<ellipse cx="405.92" cy="530.52" rx="3.12" ry="5.28" fill="#ffffff"/>
<ellipse cx="393.4" cy="493.7" rx="27" ry="23.8" fill="url(#gGray)"/>
<ellipse cx="393.4" cy="474.2" rx="11.2" ry="4.4" fill="#e8c800"/>
<ellipse cx="381.2" cy="499.4" rx="10.5" ry="13" fill="#7a7a7a"/>
<ellipse cx="380.5" cy="499" rx="7.5" ry="10" fill="#5e5e5e"/>
<ellipse cx="379" cy="495.5" rx="4.2" ry="5" fill="#8fb5d0"/>
<ellipse cx="411.8" cy="497" rx="7.2" ry="12.5" fill="#7a7a7a"/>
<ellipse cx="411.8" cy="497" rx="4.8" ry="9.5" fill="#5a5a5a"/>
<ellipse cx="410.8" cy="494.5" rx="2.6" ry="5" fill="#8fb5d0"/>
<line x1="410.2" y1="446" x2="396" y2="471" stroke="#c02020" stroke-width="0.7"/>
<polygon points="395.4,472.6 395,467.8 398.6,469.6" fill="#c02020" stroke="none" stroke-width="1"/>
<text x="417.6" y="449.3" font-family="'Liberation Serif', serif" font-size="8.5" text-anchor="middle" fill="#111" stroke="#111" font-weight="bold" font-style="normal">M</text>
<rect x="564" y="437" width="138" height="124" fill="#fafafa" stroke="none" stroke-width="1"/>
<ellipse cx="630.9" cy="461.6" rx="23.69" ry="23" fill="#76767a"/>
<ellipse cx="630.9" cy="461.6" rx="22.66" ry="22.08" fill="url(#gFoam)"/>
<ellipse cx="631.36" cy="445.04" rx="13.8" ry="5.52" fill="#7c7c80"/>
<ellipse cx="631.36" cy="445.04" rx="11.96" ry="4.37" fill="#9c9e98"/>
<ellipse cx="669.2" cy="475" rx="25.75" ry="25" fill="#76767a"/>
<ellipse cx="669.2" cy="475" rx="24.62" ry="24" fill="url(#gFoam)"/>
<ellipse cx="669.7" cy="457" rx="15" ry="6" fill="#7c7c80"/>
<ellipse cx="669.7" cy="457" rx="13" ry="4.75" fill="#9c9e98"/>
<ellipse cx="684.2" cy="478" rx="8.75" ry="15.25" fill="#747478"/>
<ellipse cx="684.7" cy="478" rx="7" ry="13.75" fill="#6c6e6a"/>
<ellipse cx="596.3" cy="478.7" rx="26.78" ry="26" fill="#76767a"/>
<ellipse cx="596.3" cy="478.7" rx="25.61" ry="24.96" fill="url(#gFoam)"/>
<ellipse cx="596.82" cy="459.98" rx="15.6" ry="6.24" fill="#7c7c80"/>
<ellipse cx="596.82" cy="459.98" rx="13.52" ry="4.94" fill="#9c9e98"/>
<ellipse cx="582" cy="481.82" rx="9.62" ry="15.86" fill="#7a7a7e"/>
<ellipse cx="582" cy="481.82" rx="8.06" ry="14.3" fill="#868883"/>
<ellipse cx="670" cy="515" rx="25.75" ry="25" fill="#76767a"/>
<ellipse cx="670" cy="515" rx="24.62" ry="24" fill="url(#gFoam)"/>
<ellipse cx="685" cy="518" rx="8.75" ry="15.25" fill="#747478"/>
<ellipse cx="685.5" cy="518" rx="7" ry="13.75" fill="#6c6e6a"/>
<ellipse cx="594" cy="519" rx="25.23" ry="24.5" fill="#76767a"/>
<ellipse cx="594" cy="519" rx="24.13" ry="23.52" fill="url(#gFoam)"/>
<ellipse cx="580.52" cy="521.94" rx="9.06" ry="14.95" fill="#7a7a7e"/>
<ellipse cx="580.52" cy="521.94" rx="7.59" ry="13.48" fill="#868883"/>
<ellipse cx="635.8" cy="531.5" rx="26.78" ry="26" fill="#76767a"/>
<ellipse cx="635.8" cy="531.5" rx="25.61" ry="24.96" fill="url(#gFoam)"/>
<ellipse cx="621.5" cy="534.62" rx="9.62" ry="15.86" fill="#7a7a7e"/>
<ellipse cx="621.5" cy="534.62" rx="8.06" ry="14.3" fill="#8a8690"/>
<ellipse cx="651.4" cy="534.62" rx="9.1" ry="15.86" fill="#747478"/>
<ellipse cx="651.92" cy="534.62" rx="7.28" ry="14.3" fill="#6a6670"/>
<ellipse cx="634" cy="489.6" rx="27.3" ry="26.5" fill="#76767a"/>
<ellipse cx="634" cy="489.6" rx="26.1" ry="25.44" fill="url(#gFoam)"/>
<ellipse cx="634.53" cy="470.52" rx="15.9" ry="6.36" fill="#7c7c80"/>
<ellipse cx="634.53" cy="470.52" rx="13.78" ry="5.04" fill="#9c9e98"/>
<ellipse cx="619.42" cy="492.78" rx="9.8" ry="16.16" fill="#7a7a7e"/>
<ellipse cx="619.42" cy="492.78" rx="8.21" ry="14.58" fill="#868883"/>
<ellipse cx="649.9" cy="492.78" rx="9.27" ry="16.16" fill="#747478"/>
<ellipse cx="650.43" cy="492.78" rx="7.42" ry="14.58" fill="#6c6e6a"/>
<text x="146.6" y="568.4" font-family="'Liberation Serif', serif" font-size="12.7" text-anchor="middle" fill="#1a1a1a" stroke="#1a1a1a" font-weight="normal" font-style="normal">Open-cell (empty) design</text>
<text x="387" y="570.7" font-family="'Liberation Serif', serif" font-size="12.7" text-anchor="middle" fill="#1a1a1a" stroke="#1a1a1a" font-weight="normal" font-style="normal">Openings are closed with thin walls (M)</text>
<text x="380" y="584.8" font-family="'Liberation Serif', serif" font-size="12.7" text-anchor="middle" fill="#1a1a1a" stroke="#1a1a1a" font-weight="normal" font-style="normal">to form the equivalent closed design</text>
<text x="632.5" y="572" font-family="'Liberation Serif', serif" font-size="12.7" text-anchor="middle" fill="#1a1a1a" stroke="#1a1a1a" font-weight="normal" font-style="normal">Foam-filled design</text>
<text x="166.4" y="601.6" font-family="'Liberation Serif', serif" font-size="9.6" text-anchor="middle" fill="#222" stroke="#222" font-weight="normal" font-style="normal">Unit cell size</text>
<text x="24.3" y="612.9" font-family="'Liberation Serif', serif" font-size="9.6" text-anchor="start" fill="#222" stroke="#222" font-weight="normal" font-style="normal">Foam-filled</text>
<line x1="102.9" y1="609.6" x2="116.9" y2="609.6" stroke="#1515d8" stroke-width="1.8"/>
<circle cx="109.9" cy="609.6" r="1.6" fill="#1515d8"/>
<text x="118.4" y="612.9" font-family="'Liberation Serif', serif" font-size="9.6" text-anchor="start" fill="#222" stroke="#222" font-weight="normal" font-style="normal">10 mm</text>
<line x1="152.9" y1="609.6" x2="166.7" y2="609.6" stroke="#f08a30" stroke-width="1.8"/>
<polygon points="157.8,611.1 161.8,611.1 159.8,607.6" fill="#f08a30" stroke="none" stroke-width="1"/>
<text x="169.4" y="612.9" font-family="'Liberation Serif', serif" font-size="9.6" text-anchor="start" fill="#222" stroke="#222" font-weight="normal" font-style="normal">12.5 mm</text>
<line x1="209.7" y1="609.6" x2="223.4" y2="609.6" stroke="#4a9040" stroke-width="1.8"/>
<circle cx="216.55" cy="609.6" r="1.6" fill="#4a9040"/>
<text x="230.5" y="612.9" font-family="'Liberation Serif', serif" font-size="9.6" text-anchor="start" fill="#222" stroke="#222" font-weight="normal" font-style="normal">15 mm</text>
<text x="24.3" y="628.5" font-family="'Liberation Serif', serif" font-size="9.6" text-anchor="start" fill="#222" stroke="#222" font-weight="normal" font-style="normal">Equivalent weight</text>
<line x1="102.9" y1="625.2" x2="116.9" y2="625.2" stroke="#1515d8" stroke-width="1.8" stroke-dasharray="4.6,4.6"/>
<circle cx="109.9" cy="625.2" r="1.6" fill="#1515d8"/>
<text x="119.6" y="628.5" font-family="'Liberation Serif', serif" font-size="9.6" text-anchor="start" fill="#222" stroke="#222" font-weight="normal" font-style="normal">10 mm</text>
<line x1="152.9" y1="625.2" x2="166.7" y2="625.2" stroke="#f08a30" stroke-width="1.8" stroke-dasharray="4.6,4.6"/>
<polygon points="157.8,626.7 161.8,626.7 159.8,623.2" fill="#f08a30" stroke="none" stroke-width="1"/>
<text x="169.4" y="628.5" font-family="'Liberation Serif', serif" font-size="9.6" text-anchor="start" fill="#222" stroke="#222" font-weight="normal" font-style="normal">12.5 mm</text>
<line x1="209.7" y1="625.2" x2="223.4" y2="625.2" stroke="#4a9040" stroke-width="1.8" stroke-dasharray="4.6,4.6"/>
<circle cx="216.55" cy="625.2" r="1.6" fill="#4a9040"/>
<text x="230.5" y="628.5" font-family="'Liberation Serif', serif" font-size="9.6" text-anchor="start" fill="#222" stroke="#222" font-weight="normal" font-style="normal">15 mm</text>
<text x="24.3" y="644.3" font-family="'Liberation Serif', serif" font-size="9.6" text-anchor="start" fill="#222" stroke="#222" font-weight="normal" font-style="normal">Empty</text>
<line x1="102.9" y1="641" x2="116.9" y2="641" stroke="#1515d8" stroke-width="1.8" stroke-dasharray="1.5,1.3"/>
<circle cx="109.9" cy="641" r="1.6" fill="#1515d8"/>
<text x="121.3" y="644.3" font-family="'Liberation Serif', serif" font-size="9.6" text-anchor="start" fill="#222" stroke="#222" font-weight="normal" font-style="normal">10 mm</text>
<line x1="152.9" y1="641" x2="166.7" y2="641" stroke="#f08a30" stroke-width="1.8" stroke-dasharray="1.5,1.3"/>
<polygon points="157.8,642.5 161.8,642.5 159.8,639" fill="#f08a30" stroke="none" stroke-width="1"/>
<text x="169.4" y="644.3" font-family="'Liberation Serif', serif" font-size="9.6" text-anchor="start" fill="#222" stroke="#222" font-weight="normal" font-style="normal">12.5 mm</text>
<line x1="209.7" y1="641" x2="223.4" y2="641" stroke="#4a9040" stroke-width="1.8" stroke-dasharray="1.5,1.3"/>
<circle cx="216.55" cy="641" r="1.6" fill="#4a9040"/>
<text x="230.5" y="644.3" font-family="'Liberation Serif', serif" font-size="9.6" text-anchor="start" fill="#222" stroke="#222" font-weight="normal" font-style="normal">15 mm</text>
<polyline points="58.2,685.95 146.75,692.45 235.3,686.6" fill="none" stroke="#2a2fa0" stroke-width="1.25"/>
<line x1="58.2" y1="683.35" x2="58.2" y2="688.55" stroke="#2a2fa0" stroke-width="1.0"/>
<line x1="56" y1="683.35" x2="60.4" y2="683.35" stroke="#2a2fa0" stroke-width="1.0"/>
<line x1="56" y1="688.55" x2="60.4" y2="688.55" stroke="#2a2fa0" stroke-width="1.0"/>
<circle cx="58.2" cy="685.95" r="1.5" fill="#2a2fa0"/>
<line x1="146.75" y1="688.88" x2="146.75" y2="696.02" stroke="#2a2fa0" stroke-width="1.0"/>
<line x1="144.55" y1="688.88" x2="148.95" y2="688.88" stroke="#2a2fa0" stroke-width="1.0"/>
<line x1="144.55" y1="696.02" x2="148.95" y2="696.02" stroke="#2a2fa0" stroke-width="1.0"/>
<circle cx="146.75" cy="692.45" r="1.5" fill="#2a2fa0"/>
<line x1="235.3" y1="683.68" x2="235.3" y2="689.53" stroke="#2a2fa0" stroke-width="1.0"/>
<line x1="233.1" y1="683.68" x2="237.5" y2="683.68" stroke="#2a2fa0" stroke-width="1.0"/>
<line x1="233.1" y1="689.53" x2="237.5" y2="689.53" stroke="#2a2fa0" stroke-width="1.0"/>
<circle cx="235.3" cy="686.6" r="1.5" fill="#2a2fa0"/>
<polyline points="58.2,681.4 146.75,683.35 235.3,684.65" fill="none" stroke="#f0a03c" stroke-width="1.25"/>
<line x1="58.2" y1="678.48" x2="58.2" y2="684.33" stroke="#f0a03c" stroke-width="1.0"/>
<line x1="56" y1="678.48" x2="60.4" y2="678.48" stroke="#f0a03c" stroke-width="1.0"/>
<line x1="56" y1="684.33" x2="60.4" y2="684.33" stroke="#f0a03c" stroke-width="1.0"/>
<circle cx="58.2" cy="681.4" r="1.5" fill="#f0a03c"/>
<line x1="146.75" y1="680.75" x2="146.75" y2="685.95" stroke="#f0a03c" stroke-width="1.0"/>
<line x1="144.55" y1="680.75" x2="148.95" y2="680.75" stroke="#f0a03c" stroke-width="1.0"/>
<line x1="144.55" y1="685.95" x2="148.95" y2="685.95" stroke="#f0a03c" stroke-width="1.0"/>
<circle cx="146.75" cy="683.35" r="1.5" fill="#f0a03c"/>
<line x1="235.3" y1="682.38" x2="235.3" y2="686.93" stroke="#f0a03c" stroke-width="1.0"/>
<line x1="233.1" y1="682.38" x2="237.5" y2="682.38" stroke="#f0a03c" stroke-width="1.0"/>
<line x1="233.1" y1="686.93" x2="237.5" y2="686.93" stroke="#f0a03c" stroke-width="1.0"/>
<circle cx="235.3" cy="684.65" r="1.5" fill="#f0a03c"/>
<polyline points="58.2,686.6 146.75,685.3 235.3,685.3" fill="none" stroke="#3a8c36" stroke-width="1.25"/>
<line x1="58.2" y1="684" x2="58.2" y2="689.2" stroke="#3a8c36" stroke-width="1.0"/>
<line x1="56" y1="684" x2="60.4" y2="684" stroke="#3a8c36" stroke-width="1.0"/>
<line x1="56" y1="689.2" x2="60.4" y2="689.2" stroke="#3a8c36" stroke-width="1.0"/>
<circle cx="58.2" cy="686.6" r="1.5" fill="#3a8c36"/>
<line x1="146.75" y1="682.7" x2="146.75" y2="687.9" stroke="#3a8c36" stroke-width="1.0"/>
<line x1="144.55" y1="682.7" x2="148.95" y2="682.7" stroke="#3a8c36" stroke-width="1.0"/>
<line x1="144.55" y1="687.9" x2="148.95" y2="687.9" stroke="#3a8c36" stroke-width="1.0"/>
<circle cx="146.75" cy="685.3" r="1.5" fill="#3a8c36"/>
<line x1="235.3" y1="682.7" x2="235.3" y2="687.9" stroke="#3a8c36" stroke-width="1.0"/>
<line x1="233.1" y1="682.7" x2="237.5" y2="682.7" stroke="#3a8c36" stroke-width="1.0"/>
<line x1="233.1" y1="687.9" x2="237.5" y2="687.9" stroke="#3a8c36" stroke-width="1.0"/>
<circle cx="235.3" cy="685.3" r="1.5" fill="#3a8c36"/>
<polyline points="58.2,731.45 146.75,735.35 235.3,736" fill="none" stroke="#f0a03c" stroke-width="1.2" stroke-dasharray="4.5,1.6,1.3,1.6"/>
<line x1="58.2" y1="728.85" x2="58.2" y2="734.05" stroke="#f0a03c" stroke-width="1.0"/>
<line x1="56" y1="728.85" x2="60.4" y2="728.85" stroke="#f0a03c" stroke-width="1.0"/>
<line x1="56" y1="734.05" x2="60.4" y2="734.05" stroke="#f0a03c" stroke-width="1.0"/>
<circle cx="58.2" cy="731.45" r="1.5" fill="#f0a03c"/>
<line x1="146.75" y1="733.08" x2="146.75" y2="737.62" stroke="#f0a03c" stroke-width="1.0"/>
<line x1="144.55" y1="733.08" x2="148.95" y2="733.08" stroke="#f0a03c" stroke-width="1.0"/>
<line x1="144.55" y1="737.62" x2="148.95" y2="737.62" stroke="#f0a03c" stroke-width="1.0"/>
<circle cx="146.75" cy="735.35" r="1.5" fill="#f0a03c"/>
<line x1="235.3" y1="733.73" x2="235.3" y2="738.28" stroke="#f0a03c" stroke-width="1.0"/>
<line x1="233.1" y1="733.73" x2="237.5" y2="733.73" stroke="#f0a03c" stroke-width="1.0"/>
<line x1="233.1" y1="738.28" x2="237.5" y2="738.28" stroke="#f0a03c" stroke-width="1.0"/>
<circle cx="235.3" cy="736" r="1.5" fill="#f0a03c"/>
<polyline points="58.2,734.38 146.75,736.33 235.3,733.4" fill="none" stroke="#2a2fa0" stroke-width="1.2" stroke-dasharray="4.5,1.6,1.3,1.6"/>
<line x1="58.2" y1="731.12" x2="58.2" y2="737.62" stroke="#2a2fa0" stroke-width="1.0"/>
<line x1="56" y1="731.12" x2="60.4" y2="731.12" stroke="#2a2fa0" stroke-width="1.0"/>
<line x1="56" y1="737.62" x2="60.4" y2="737.62" stroke="#2a2fa0" stroke-width="1.0"/>
<circle cx="58.2" cy="734.38" r="1.5" fill="#2a2fa0"/>
<line x1="146.75" y1="733.4" x2="146.75" y2="739.25" stroke="#2a2fa0" stroke-width="1.0"/>
<line x1="144.55" y1="733.4" x2="148.95" y2="733.4" stroke="#2a2fa0" stroke-width="1.0"/>
<line x1="144.55" y1="739.25" x2="148.95" y2="739.25" stroke="#2a2fa0" stroke-width="1.0"/>
<circle cx="146.75" cy="736.33" r="1.5" fill="#2a2fa0"/>
<line x1="235.3" y1="730.48" x2="235.3" y2="736.33" stroke="#2a2fa0" stroke-width="1.0"/>
<line x1="233.1" y1="730.48" x2="237.5" y2="730.48" stroke="#2a2fa0" stroke-width="1.0"/>
<line x1="233.1" y1="736.33" x2="237.5" y2="736.33" stroke="#2a2fa0" stroke-width="1.0"/>
<circle cx="235.3" cy="733.4" r="1.5" fill="#2a2fa0"/>
<polyline points="58.2,737.3 146.75,736.65 235.3,739.58" fill="none" stroke="#3a8c36" stroke-width="1.2" stroke-dasharray="4.5,1.6,1.3,1.6"/>
<line x1="58.2" y1="734.38" x2="58.2" y2="740.23" stroke="#3a8c36" stroke-width="1.0"/>
<line x1="56" y1="734.38" x2="60.4" y2="734.38" stroke="#3a8c36" stroke-width="1.0"/>
<line x1="56" y1="740.23" x2="60.4" y2="740.23" stroke="#3a8c36" stroke-width="1.0"/>
<circle cx="58.2" cy="737.3" r="1.5" fill="#3a8c36"/>
<line x1="146.75" y1="733.4" x2="146.75" y2="739.9" stroke="#3a8c36" stroke-width="1.0"/>
<line x1="144.55" y1="733.4" x2="148.95" y2="733.4" stroke="#3a8c36" stroke-width="1.0"/>
<line x1="144.55" y1="739.9" x2="148.95" y2="739.9" stroke="#3a8c36" stroke-width="1.0"/>
<circle cx="146.75" cy="736.65" r="1.5" fill="#3a8c36"/>
<line x1="235.3" y1="736.65" x2="235.3" y2="742.5" stroke="#3a8c36" stroke-width="1.0"/>
<line x1="233.1" y1="736.65" x2="237.5" y2="736.65" stroke="#3a8c36" stroke-width="1.0"/>
<line x1="233.1" y1="742.5" x2="237.5" y2="742.5" stroke="#3a8c36" stroke-width="1.0"/>
<circle cx="235.3" cy="739.58" r="1.5" fill="#3a8c36"/>
<polyline points="58.2,749 146.75,752.58 235.3,749.65" fill="none" stroke="#2a2fa0" stroke-width="1.2" stroke-dasharray="1.1,1.1"/>
<line x1="58.2" y1="746.08" x2="58.2" y2="751.93" stroke="#2a2fa0" stroke-width="1.0"/>
<line x1="56" y1="746.08" x2="60.4" y2="746.08" stroke="#2a2fa0" stroke-width="1.0"/>
<line x1="56" y1="751.93" x2="60.4" y2="751.93" stroke="#2a2fa0" stroke-width="1.0"/>
<circle cx="58.2" cy="749" r="1.5" fill="#2a2fa0"/>
<line x1="146.75" y1="749.65" x2="146.75" y2="755.5" stroke="#2a2fa0" stroke-width="1.0"/>
<line x1="144.55" y1="749.65" x2="148.95" y2="749.65" stroke="#2a2fa0" stroke-width="1.0"/>
<line x1="144.55" y1="755.5" x2="148.95" y2="755.5" stroke="#2a2fa0" stroke-width="1.0"/>
<circle cx="146.75" cy="752.58" r="1.5" fill="#2a2fa0"/>
<line x1="235.3" y1="746.73" x2="235.3" y2="752.58" stroke="#2a2fa0" stroke-width="1.0"/>
<line x1="233.1" y1="746.73" x2="237.5" y2="746.73" stroke="#2a2fa0" stroke-width="1.0"/>
<line x1="233.1" y1="752.58" x2="237.5" y2="752.58" stroke="#2a2fa0" stroke-width="1.0"/>
<circle cx="235.3" cy="749.65" r="1.5" fill="#2a2fa0"/>
<polyline points="58.2,765.25 146.75,767.2 235.3,766.23" fill="none" stroke="#f0a03c" stroke-width="1.2" stroke-dasharray="1.1,1.1"/>
<line x1="58.2" y1="762.65" x2="58.2" y2="767.85" stroke="#f0a03c" stroke-width="1.0"/>
<line x1="56" y1="762.65" x2="60.4" y2="762.65" stroke="#f0a03c" stroke-width="1.0"/>
<line x1="56" y1="767.85" x2="60.4" y2="767.85" stroke="#f0a03c" stroke-width="1.0"/>
<circle cx="58.2" cy="765.25" r="1.5" fill="#f0a03c"/>
<line x1="146.75" y1="764.6" x2="146.75" y2="769.8" stroke="#f0a03c" stroke-width="1.0"/>
<line x1="144.55" y1="764.6" x2="148.95" y2="764.6" stroke="#f0a03c" stroke-width="1.0"/>
<line x1="144.55" y1="769.8" x2="148.95" y2="769.8" stroke="#f0a03c" stroke-width="1.0"/>
<circle cx="146.75" cy="767.2" r="1.5" fill="#f0a03c"/>
<line x1="235.3" y1="763.62" x2="235.3" y2="768.83" stroke="#f0a03c" stroke-width="1.0"/>
<line x1="233.1" y1="763.62" x2="237.5" y2="763.62" stroke="#f0a03c" stroke-width="1.0"/>
<line x1="233.1" y1="768.83" x2="237.5" y2="768.83" stroke="#f0a03c" stroke-width="1.0"/>
<circle cx="235.3" cy="766.23" r="1.5" fill="#f0a03c"/>
<polyline points="58.2,776.3 146.75,775 235.3,778.9" fill="none" stroke="#3a8c36" stroke-width="1.2" stroke-dasharray="1.1,1.1"/>
<line x1="58.2" y1="773.7" x2="58.2" y2="778.9" stroke="#3a8c36" stroke-width="1.0"/>
<line x1="56" y1="773.7" x2="60.4" y2="773.7" stroke="#3a8c36" stroke-width="1.0"/>
<line x1="56" y1="778.9" x2="60.4" y2="778.9" stroke="#3a8c36" stroke-width="1.0"/>
<circle cx="58.2" cy="776.3" r="1.5" fill="#3a8c36"/>
<line x1="146.75" y1="772.08" x2="146.75" y2="777.93" stroke="#3a8c36" stroke-width="1.0"/>
<line x1="144.55" y1="772.08" x2="148.95" y2="772.08" stroke="#3a8c36" stroke-width="1.0"/>
<line x1="144.55" y1="777.93" x2="148.95" y2="777.93" stroke="#3a8c36" stroke-width="1.0"/>
<circle cx="146.75" cy="775" r="1.5" fill="#3a8c36"/>
<line x1="235.3" y1="775.98" x2="235.3" y2="781.83" stroke="#3a8c36" stroke-width="1.0"/>
<line x1="233.1" y1="775.98" x2="237.5" y2="775.98" stroke="#3a8c36" stroke-width="1.0"/>
<line x1="233.1" y1="781.83" x2="237.5" y2="781.83" stroke="#3a8c36" stroke-width="1.0"/>
<circle cx="235.3" cy="778.9" r="1.5" fill="#3a8c36"/>
<line x1="40.4" y1="649.2" x2="40.4" y2="800" stroke="#606060" stroke-width="1.0"/>
<line x1="37.9" y1="800" x2="252.5" y2="800" stroke="#606060" stroke-width="1.1"/>
<line x1="37.1" y1="780.2" x2="40.4" y2="780.2" stroke="#606060" stroke-width="0.9"/>
<text x="35" y="783" font-family="'Liberation Serif', serif" font-size="8.0" text-anchor="end" fill="#1a1a1a" stroke="#1a1a1a" font-weight="bold" font-style="normal">25</text>
<line x1="37.1" y1="747.7" x2="40.4" y2="747.7" stroke="#606060" stroke-width="0.9"/>
<text x="35" y="750.5" font-family="'Liberation Serif', serif" font-size="8.0" text-anchor="end" fill="#1a1a1a" stroke="#1a1a1a" font-weight="bold" font-style="normal">30</text>
<line x1="37.1" y1="715.2" x2="40.4" y2="715.2" stroke="#606060" stroke-width="0.9"/>
<text x="35" y="718" font-family="'Liberation Serif', serif" font-size="8.0" text-anchor="end" fill="#1a1a1a" stroke="#1a1a1a" font-weight="bold" font-style="normal">35</text>
<line x1="37.1" y1="682.7" x2="40.4" y2="682.7" stroke="#606060" stroke-width="0.9"/>
<text x="35" y="685.5" font-family="'Liberation Serif', serif" font-size="8.0" text-anchor="end" fill="#1a1a1a" stroke="#1a1a1a" font-weight="bold" font-style="normal">40</text>
<line x1="37.1" y1="650.2" x2="40.4" y2="650.2" stroke="#606060" stroke-width="0.9"/>
<text x="35" y="653" font-family="'Liberation Serif', serif" font-size="8.0" text-anchor="end" fill="#1a1a1a" stroke="#1a1a1a" font-weight="bold" font-style="normal">45</text>
<line x1="58.2" y1="800" x2="58.2" y2="803.3" stroke="#606060" stroke-width="0.9"/>
<text x="58.2" y="811.2" font-family="'Liberation Serif', serif" font-size="8.0" text-anchor="middle" fill="#1a1a1a" stroke="#1a1a1a" font-weight="bold" font-style="normal">30</text>
<line x1="146.75" y1="800" x2="146.75" y2="803.3" stroke="#606060" stroke-width="0.9"/>
<text x="146.75" y="811.2" font-family="'Liberation Serif', serif" font-size="8.0" text-anchor="middle" fill="#1a1a1a" stroke="#1a1a1a" font-weight="bold" font-style="normal">40</text>
<line x1="235.3" y1="800" x2="235.3" y2="803.3" stroke="#606060" stroke-width="0.9"/>
<text x="235.3" y="811.2" font-family="'Liberation Serif', serif" font-size="8.0" text-anchor="middle" fill="#1a1a1a" stroke="#1a1a1a" font-weight="bold" font-style="normal">50</text>
<line x1="102.48" y1="800" x2="102.48" y2="801.8" stroke="#606060" stroke-width="0.7"/>
<line x1="191.03" y1="800" x2="191.03" y2="801.8" stroke="#606060" stroke-width="0.7"/>
<text x="21.9" y="730.6" font-family="'Liberation Serif', serif" font-size="8.8" font-weight="bold" fill="#1a1a1a" text-anchor="middle" transform="rotate(-90 21.9 730.6)">Stiffness (N/mm)</text>
<text x="146.6" y="825.4" font-family="'Liberation Serif', serif" font-size="9.2" text-anchor="middle" fill="#1a1a1a" stroke="#1a1a1a" font-weight="bold" font-style="normal">% Compression</text>
<polyline points="309.1,766.39 400,724.26 490.9,671.16" fill="none" stroke="#2a2fa0" stroke-width="1.25"/>
<line x1="309.1" y1="763.44" x2="309.1" y2="769.34" stroke="#2a2fa0" stroke-width="1.0"/>
<line x1="306.9" y1="763.44" x2="311.3" y2="763.44" stroke="#2a2fa0" stroke-width="1.0"/>
<line x1="306.9" y1="769.34" x2="311.3" y2="769.34" stroke="#2a2fa0" stroke-width="1.0"/>
<circle cx="309.1" cy="766.39" r="1.5" fill="#2a2fa0"/>
<line x1="400" y1="720.13" x2="400" y2="728.39" stroke="#2a2fa0" stroke-width="1.0"/>
<line x1="397.8" y1="720.13" x2="402.2" y2="720.13" stroke="#2a2fa0" stroke-width="1.0"/>
<line x1="397.8" y1="728.39" x2="402.2" y2="728.39" stroke="#2a2fa0" stroke-width="1.0"/>
<circle cx="400" cy="724.26" r="1.5" fill="#2a2fa0"/>
<line x1="490.9" y1="667.86" x2="490.9" y2="674.47" stroke="#2a2fa0" stroke-width="1.0"/>
<line x1="488.7" y1="667.86" x2="493.1" y2="667.86" stroke="#2a2fa0" stroke-width="1.0"/>
<line x1="488.7" y1="674.47" x2="493.1" y2="674.47" stroke="#2a2fa0" stroke-width="1.0"/>
<circle cx="490.9" cy="671.16" r="1.5" fill="#2a2fa0"/>
<polyline points="309.1,767.57 400,742.44 490.9,699.25" fill="none" stroke="#f0a03c" stroke-width="1.25"/>
<line x1="309.1" y1="765.21" x2="309.1" y2="769.93" stroke="#f0a03c" stroke-width="1.0"/>
<line x1="306.9" y1="765.21" x2="311.3" y2="765.21" stroke="#f0a03c" stroke-width="1.0"/>
<line x1="306.9" y1="769.93" x2="311.3" y2="769.93" stroke="#f0a03c" stroke-width="1.0"/>
<circle cx="309.1" cy="767.57" r="1.5" fill="#f0a03c"/>
<line x1="400" y1="738.9" x2="400" y2="745.98" stroke="#f0a03c" stroke-width="1.0"/>
<line x1="397.8" y1="738.9" x2="402.2" y2="738.9" stroke="#f0a03c" stroke-width="1.0"/>
<line x1="397.8" y1="745.98" x2="402.2" y2="745.98" stroke="#f0a03c" stroke-width="1.0"/>
<circle cx="400" cy="742.44" r="1.5" fill="#f0a03c"/>
<line x1="490.9" y1="695.94" x2="490.9" y2="702.55" stroke="#f0a03c" stroke-width="1.0"/>
<line x1="488.7" y1="695.94" x2="493.1" y2="695.94" stroke="#f0a03c" stroke-width="1.0"/>
<line x1="488.7" y1="702.55" x2="493.1" y2="702.55" stroke="#f0a03c" stroke-width="1.0"/>
<circle cx="490.9" cy="699.25" r="1.5" fill="#f0a03c"/>
<polyline points="309.1,768.99 400,754 490.9,715.89" fill="none" stroke="#3a8c36" stroke-width="1.25"/>
<line x1="309.1" y1="766.63" x2="309.1" y2="771.35" stroke="#3a8c36" stroke-width="1.0"/>
<line x1="306.9" y1="766.63" x2="311.3" y2="766.63" stroke="#3a8c36" stroke-width="1.0"/>
<line x1="306.9" y1="771.35" x2="311.3" y2="771.35" stroke="#3a8c36" stroke-width="1.0"/>
<circle cx="309.1" cy="768.99" r="1.5" fill="#3a8c36"/>
<line x1="400" y1="750.46" x2="400" y2="757.54" stroke="#3a8c36" stroke-width="1.0"/>
<line x1="397.8" y1="750.46" x2="402.2" y2="750.46" stroke="#3a8c36" stroke-width="1.0"/>
<line x1="397.8" y1="757.54" x2="402.2" y2="757.54" stroke="#3a8c36" stroke-width="1.0"/>
<circle cx="400" cy="754" r="1.5" fill="#3a8c36"/>
<line x1="490.9" y1="712.94" x2="490.9" y2="718.84" stroke="#3a8c36" stroke-width="1.0"/>
<line x1="488.7" y1="712.94" x2="493.1" y2="712.94" stroke="#3a8c36" stroke-width="1.0"/>
<line x1="488.7" y1="718.84" x2="493.1" y2="718.84" stroke="#3a8c36" stroke-width="1.0"/>
<circle cx="490.9" cy="715.89" r="1.5" fill="#3a8c36"/>
<polyline points="309.1,779.61 400,760.25 490.9,732.76" fill="none" stroke="#2a2fa0" stroke-width="1.2" stroke-dasharray="4.5,1.6,1.3,1.6"/>
<line x1="309.1" y1="776.66" x2="309.1" y2="782.56" stroke="#2a2fa0" stroke-width="1.0"/>
<line x1="306.9" y1="776.66" x2="311.3" y2="776.66" stroke="#2a2fa0" stroke-width="1.0"/>
<line x1="306.9" y1="782.56" x2="311.3" y2="782.56" stroke="#2a2fa0" stroke-width="1.0"/>
<circle cx="309.1" cy="779.61" r="1.5" fill="#2a2fa0"/>
<line x1="400" y1="756.71" x2="400" y2="763.79" stroke="#2a2fa0" stroke-width="1.0"/>
<line x1="397.8" y1="756.71" x2="402.2" y2="756.71" stroke="#2a2fa0" stroke-width="1.0"/>
<line x1="397.8" y1="763.79" x2="402.2" y2="763.79" stroke="#2a2fa0" stroke-width="1.0"/>
<circle cx="400" cy="760.25" r="1.5" fill="#2a2fa0"/>
<line x1="490.9" y1="729.22" x2="490.9" y2="736.3" stroke="#2a2fa0" stroke-width="1.0"/>
<line x1="488.7" y1="729.22" x2="493.1" y2="729.22" stroke="#2a2fa0" stroke-width="1.0"/>
<line x1="488.7" y1="736.3" x2="493.1" y2="736.3" stroke="#2a2fa0" stroke-width="1.0"/>
<circle cx="490.9" cy="732.76" r="1.5" fill="#2a2fa0"/>
<polyline points="309.1,782.79 400,765.33 490.9,745.27" fill="none" stroke="#2a2fa0" stroke-width="1.2" stroke-dasharray="1.1,1.1"/>
<line x1="309.1" y1="780.43" x2="309.1" y2="785.15" stroke="#2a2fa0" stroke-width="1.0"/>
<line x1="306.9" y1="780.43" x2="311.3" y2="780.43" stroke="#2a2fa0" stroke-width="1.0"/>
<line x1="306.9" y1="785.15" x2="311.3" y2="785.15" stroke="#2a2fa0" stroke-width="1.0"/>
<circle cx="309.1" cy="782.79" r="1.5" fill="#2a2fa0"/>
<line x1="400" y1="762.38" x2="400" y2="768.28" stroke="#2a2fa0" stroke-width="1.0"/>
<line x1="397.8" y1="762.38" x2="402.2" y2="762.38" stroke="#2a2fa0" stroke-width="1.0"/>
<line x1="397.8" y1="768.28" x2="402.2" y2="768.28" stroke="#2a2fa0" stroke-width="1.0"/>
<circle cx="400" cy="765.33" r="1.5" fill="#2a2fa0"/>
<line x1="490.9" y1="742.32" x2="490.9" y2="748.22" stroke="#2a2fa0" stroke-width="1.0"/>
<line x1="488.7" y1="742.32" x2="493.1" y2="742.32" stroke="#2a2fa0" stroke-width="1.0"/>
<line x1="488.7" y1="748.22" x2="493.1" y2="748.22" stroke="#2a2fa0" stroke-width="1.0"/>
<circle cx="490.9" cy="745.27" r="1.5" fill="#2a2fa0"/>
<polyline points="309.1,785.39 400,767.45 490.9,745.74" fill="none" stroke="#f0a03c" stroke-width="1.2" stroke-dasharray="4.5,1.6,1.3,1.6"/>
<line x1="309.1" y1="783.03" x2="309.1" y2="787.75" stroke="#f0a03c" stroke-width="1.0"/>
<line x1="306.9" y1="783.03" x2="311.3" y2="783.03" stroke="#f0a03c" stroke-width="1.0"/>
<line x1="306.9" y1="787.75" x2="311.3" y2="787.75" stroke="#f0a03c" stroke-width="1.0"/>
<circle cx="309.1" cy="785.39" r="1.5" fill="#f0a03c"/>
<line x1="400" y1="764.5" x2="400" y2="770.4" stroke="#f0a03c" stroke-width="1.0"/>
<line x1="397.8" y1="764.5" x2="402.2" y2="764.5" stroke="#f0a03c" stroke-width="1.0"/>
<line x1="397.8" y1="770.4" x2="402.2" y2="770.4" stroke="#f0a03c" stroke-width="1.0"/>
<circle cx="400" cy="767.45" r="1.5" fill="#f0a03c"/>
<line x1="490.9" y1="742.79" x2="490.9" y2="748.69" stroke="#f0a03c" stroke-width="1.0"/>
<line x1="488.7" y1="742.79" x2="493.1" y2="742.79" stroke="#f0a03c" stroke-width="1.0"/>
<line x1="488.7" y1="748.69" x2="493.1" y2="748.69" stroke="#f0a03c" stroke-width="1.0"/>
<circle cx="490.9" cy="745.74" r="1.5" fill="#f0a03c"/>
<polyline points="309.1,788.22 400,773.94 490.9,759.9" fill="none" stroke="#f0a03c" stroke-width="1.2" stroke-dasharray="1.1,1.1"/>
<line x1="309.1" y1="785.86" x2="309.1" y2="790.58" stroke="#f0a03c" stroke-width="1.0"/>
<line x1="306.9" y1="785.86" x2="311.3" y2="785.86" stroke="#f0a03c" stroke-width="1.0"/>
<line x1="306.9" y1="790.58" x2="311.3" y2="790.58" stroke="#f0a03c" stroke-width="1.0"/>
<circle cx="309.1" cy="788.22" r="1.5" fill="#f0a03c"/>
<line x1="400" y1="771.58" x2="400" y2="776.3" stroke="#f0a03c" stroke-width="1.0"/>
<line x1="397.8" y1="771.58" x2="402.2" y2="771.58" stroke="#f0a03c" stroke-width="1.0"/>
<line x1="397.8" y1="776.3" x2="402.2" y2="776.3" stroke="#f0a03c" stroke-width="1.0"/>
<circle cx="400" cy="773.94" r="1.5" fill="#f0a03c"/>
<line x1="490.9" y1="757.54" x2="490.9" y2="762.26" stroke="#f0a03c" stroke-width="1.0"/>
<line x1="488.7" y1="757.54" x2="493.1" y2="757.54" stroke="#f0a03c" stroke-width="1.0"/>
<line x1="488.7" y1="762.26" x2="493.1" y2="762.26" stroke="#f0a03c" stroke-width="1.0"/>
<circle cx="490.9" cy="759.9" r="1.5" fill="#f0a03c"/>
<polyline points="309.1,790.23 400,775.95 490.9,756.36" fill="none" stroke="#3a8c36" stroke-width="1.2" stroke-dasharray="4.5,1.6,1.3,1.6"/>
<line x1="309.1" y1="787.87" x2="309.1" y2="792.59" stroke="#3a8c36" stroke-width="1.0"/>
<line x1="306.9" y1="787.87" x2="311.3" y2="787.87" stroke="#3a8c36" stroke-width="1.0"/>
<line x1="306.9" y1="792.59" x2="311.3" y2="792.59" stroke="#3a8c36" stroke-width="1.0"/>
<circle cx="309.1" cy="790.23" r="1.5" fill="#3a8c36"/>
<line x1="400" y1="773.59" x2="400" y2="778.31" stroke="#3a8c36" stroke-width="1.0"/>
<line x1="397.8" y1="773.59" x2="402.2" y2="773.59" stroke="#3a8c36" stroke-width="1.0"/>
<line x1="397.8" y1="778.31" x2="402.2" y2="778.31" stroke="#3a8c36" stroke-width="1.0"/>
<circle cx="400" cy="775.95" r="1.5" fill="#3a8c36"/>
<line x1="490.9" y1="753.41" x2="490.9" y2="759.31" stroke="#3a8c36" stroke-width="1.0"/>
<line x1="488.7" y1="753.41" x2="493.1" y2="753.41" stroke="#3a8c36" stroke-width="1.0"/>
<line x1="488.7" y1="759.31" x2="493.1" y2="759.31" stroke="#3a8c36" stroke-width="1.0"/>
<circle cx="490.9" cy="756.36" r="1.5" fill="#3a8c36"/>
<polyline points="309.1,794 400,781.14 490.9,764.86" fill="none" stroke="#3a8c36" stroke-width="1.2" stroke-dasharray="1.1,1.1"/>
<line x1="309.1" y1="791.64" x2="309.1" y2="796.36" stroke="#3a8c36" stroke-width="1.0"/>
<line x1="306.9" y1="791.64" x2="311.3" y2="791.64" stroke="#3a8c36" stroke-width="1.0"/>
<line x1="306.9" y1="796.36" x2="311.3" y2="796.36" stroke="#3a8c36" stroke-width="1.0"/>
<circle cx="309.1" cy="794" r="1.5" fill="#3a8c36"/>
<line x1="400" y1="778.78" x2="400" y2="783.5" stroke="#3a8c36" stroke-width="1.0"/>
<line x1="397.8" y1="778.78" x2="402.2" y2="778.78" stroke="#3a8c36" stroke-width="1.0"/>
<line x1="397.8" y1="783.5" x2="402.2" y2="783.5" stroke="#3a8c36" stroke-width="1.0"/>
<circle cx="400" cy="781.14" r="1.5" fill="#3a8c36"/>
<line x1="490.9" y1="762.5" x2="490.9" y2="767.22" stroke="#3a8c36" stroke-width="1.0"/>
<line x1="488.7" y1="762.5" x2="493.1" y2="762.5" stroke="#3a8c36" stroke-width="1.0"/>
<line x1="488.7" y1="767.22" x2="493.1" y2="767.22" stroke="#3a8c36" stroke-width="1.0"/>
<circle cx="490.9" cy="764.86" r="1.5" fill="#3a8c36"/>
<line x1="291" y1="646.6" x2="291" y2="801.3" stroke="#606060" stroke-width="1.0"/>
<line x1="288.5" y1="801.3" x2="509.5" y2="801.3" stroke="#606060" stroke-width="1.1"/>
<line x1="287.7" y1="789.4" x2="291" y2="789.4" stroke="#606060" stroke-width="0.9"/>
<text x="285.5" y="792.2" font-family="'Liberation Serif', serif" font-size="8.0" text-anchor="end" fill="#1a1a1a" stroke="#1a1a1a" font-weight="bold" font-style="normal">20</text>
<line x1="287.7" y1="765.8" x2="291" y2="765.8" stroke="#606060" stroke-width="0.9"/>
<text x="285.5" y="768.6" font-family="'Liberation Serif', serif" font-size="8.0" text-anchor="end" fill="#1a1a1a" stroke="#1a1a1a" font-weight="bold" font-style="normal">40</text>
<line x1="287.7" y1="742.2" x2="291" y2="742.2" stroke="#606060" stroke-width="0.9"/>
<text x="285.5" y="745" font-family="'Liberation Serif', serif" font-size="8.0" text-anchor="end" fill="#1a1a1a" stroke="#1a1a1a" font-weight="bold" font-style="normal">60</text>
<line x1="287.7" y1="718.6" x2="291" y2="718.6" stroke="#606060" stroke-width="0.9"/>
<text x="285.5" y="721.4" font-family="'Liberation Serif', serif" font-size="8.0" text-anchor="end" fill="#1a1a1a" stroke="#1a1a1a" font-weight="bold" font-style="normal">80</text>
<line x1="287.7" y1="695" x2="291" y2="695" stroke="#606060" stroke-width="0.9"/>
<text x="285.5" y="697.8" font-family="'Liberation Serif', serif" font-size="8.0" text-anchor="end" fill="#1a1a1a" stroke="#1a1a1a" font-weight="bold" font-style="normal">100</text>
<line x1="287.7" y1="671.4" x2="291" y2="671.4" stroke="#606060" stroke-width="0.9"/>
<text x="285.5" y="674.2" font-family="'Liberation Serif', serif" font-size="8.0" text-anchor="end" fill="#1a1a1a" stroke="#1a1a1a" font-weight="bold" font-style="normal">120</text>
<line x1="287.7" y1="647.8" x2="291" y2="647.8" stroke="#606060" stroke-width="0.9"/>
<text x="285.5" y="650.6" font-family="'Liberation Serif', serif" font-size="8.0" text-anchor="end" fill="#1a1a1a" stroke="#1a1a1a" font-weight="bold" font-style="normal">140</text>
<line x1="289" y1="777.6" x2="291" y2="777.6" stroke="#606060" stroke-width="0.7"/>
<line x1="289" y1="754" x2="291" y2="754" stroke="#606060" stroke-width="0.7"/>
<line x1="289" y1="730.4" x2="291" y2="730.4" stroke="#606060" stroke-width="0.7"/>
<line x1="289" y1="706.8" x2="291" y2="706.8" stroke="#606060" stroke-width="0.7"/>
<line x1="289" y1="683.2" x2="291" y2="683.2" stroke="#606060" stroke-width="0.7"/>
<line x1="289" y1="659.6" x2="291" y2="659.6" stroke="#606060" stroke-width="0.7"/>
<line x1="309.1" y1="801.3" x2="309.1" y2="804.6" stroke="#606060" stroke-width="0.9"/>
<text x="309.1" y="812.9" font-family="'Liberation Serif', serif" font-size="8.0" text-anchor="middle" fill="#1a1a1a" stroke="#1a1a1a" font-weight="bold" font-style="normal">30</text>
<line x1="400" y1="801.3" x2="400" y2="804.6" stroke="#606060" stroke-width="0.9"/>
<text x="400" y="812.9" font-family="'Liberation Serif', serif" font-size="8.0" text-anchor="middle" fill="#1a1a1a" stroke="#1a1a1a" font-weight="bold" font-style="normal">40</text>
<line x1="490.9" y1="801.3" x2="490.9" y2="804.6" stroke="#606060" stroke-width="0.9"/>
<text x="490.9" y="812.9" font-family="'Liberation Serif', serif" font-size="8.0" text-anchor="middle" fill="#1a1a1a" stroke="#1a1a1a" font-weight="bold" font-style="normal">50</text>
<line x1="354.55" y1="801.3" x2="354.55" y2="803.1" stroke="#606060" stroke-width="0.7"/>
<line x1="445.45" y1="801.3" x2="445.45" y2="803.1" stroke="#606060" stroke-width="0.7"/>
<text x="267.3" y="730.2" font-family="'Liberation Serif', serif" font-size="8.8" font-weight="bold" fill="#1a1a1a" text-anchor="middle" transform="rotate(-90 267.3 730.2)">Specific Energy Dissipation</text>
<text x="400.1" y="827.3" font-family="'Liberation Serif', serif" font-size="9.2" text-anchor="middle" fill="#1a1a1a" stroke="#1a1a1a" font-weight="bold" font-style="normal">% Compression</text>
<polyline points="566.3,708.91 651.25,707.72 736.2,676.62" fill="none" stroke="#3a8c36" stroke-width="1.25"/>
<line x1="566.3" y1="705.92" x2="566.3" y2="711.9" stroke="#3a8c36" stroke-width="1.0"/>
<line x1="564.1" y1="705.92" x2="568.5" y2="705.92" stroke="#3a8c36" stroke-width="1.0"/>
<line x1="564.1" y1="711.9" x2="568.5" y2="711.9" stroke="#3a8c36" stroke-width="1.0"/>
<circle cx="566.3" cy="708.91" r="1.5" fill="#3a8c36"/>
<line x1="651.25" y1="705.32" x2="651.25" y2="710.11" stroke="#3a8c36" stroke-width="1.0"/>
<line x1="649.05" y1="705.32" x2="653.45" y2="705.32" stroke="#3a8c36" stroke-width="1.0"/>
<line x1="649.05" y1="710.11" x2="653.45" y2="710.11" stroke="#3a8c36" stroke-width="1.0"/>
<circle cx="651.25" cy="707.72" r="1.5" fill="#3a8c36"/>
<line x1="736.2" y1="673.63" x2="736.2" y2="679.61" stroke="#3a8c36" stroke-width="1.0"/>
<line x1="734" y1="673.63" x2="738.4" y2="673.63" stroke="#3a8c36" stroke-width="1.0"/>
<line x1="734" y1="679.61" x2="738.4" y2="679.61" stroke="#3a8c36" stroke-width="1.0"/>
<circle cx="736.2" cy="676.62" r="1.5" fill="#3a8c36"/>
<polyline points="566.3,719.68 651.25,702.93 736.2,691.57" fill="none" stroke="#f0a03c" stroke-width="1.25"/>
<line x1="566.3" y1="716.09" x2="566.3" y2="723.26" stroke="#f0a03c" stroke-width="1.0"/>
<line x1="564.1" y1="716.09" x2="568.5" y2="716.09" stroke="#f0a03c" stroke-width="1.0"/>
<line x1="564.1" y1="723.26" x2="568.5" y2="723.26" stroke="#f0a03c" stroke-width="1.0"/>
<circle cx="566.3" cy="719.68" r="1.5" fill="#f0a03c"/>
<line x1="651.25" y1="699.34" x2="651.25" y2="706.52" stroke="#f0a03c" stroke-width="1.0"/>
<line x1="649.05" y1="699.34" x2="653.45" y2="699.34" stroke="#f0a03c" stroke-width="1.0"/>
<line x1="649.05" y1="706.52" x2="653.45" y2="706.52" stroke="#f0a03c" stroke-width="1.0"/>
<circle cx="651.25" cy="702.93" r="1.5" fill="#f0a03c"/>
<line x1="736.2" y1="688.58" x2="736.2" y2="694.56" stroke="#f0a03c" stroke-width="1.0"/>
<line x1="734" y1="688.58" x2="738.4" y2="688.58" stroke="#f0a03c" stroke-width="1.0"/>
<line x1="734" y1="694.56" x2="738.4" y2="694.56" stroke="#f0a03c" stroke-width="1.0"/>
<circle cx="736.2" cy="691.57" r="1.5" fill="#f0a03c"/>
<polyline points="566.3,728.65 651.25,705.92 736.2,684.1" fill="none" stroke="#2a2fa0" stroke-width="1.25"/>
<line x1="566.3" y1="725.66" x2="566.3" y2="731.64" stroke="#2a2fa0" stroke-width="1.0"/>
<line x1="564.1" y1="725.66" x2="568.5" y2="725.66" stroke="#2a2fa0" stroke-width="1.0"/>
<line x1="564.1" y1="731.64" x2="568.5" y2="731.64" stroke="#2a2fa0" stroke-width="1.0"/>
<circle cx="566.3" cy="728.65" r="1.5" fill="#2a2fa0"/>
<line x1="651.25" y1="702.93" x2="651.25" y2="708.91" stroke="#2a2fa0" stroke-width="1.0"/>
<line x1="649.05" y1="702.93" x2="653.45" y2="702.93" stroke="#2a2fa0" stroke-width="1.0"/>
<line x1="649.05" y1="708.91" x2="653.45" y2="708.91" stroke="#2a2fa0" stroke-width="1.0"/>
<circle cx="651.25" cy="705.92" r="1.5" fill="#2a2fa0"/>
<line x1="736.2" y1="681.11" x2="736.2" y2="687.09" stroke="#2a2fa0" stroke-width="1.0"/>
<line x1="734" y1="681.11" x2="738.4" y2="681.11" stroke="#2a2fa0" stroke-width="1.0"/>
<line x1="734" y1="687.09" x2="738.4" y2="687.09" stroke="#2a2fa0" stroke-width="1.0"/>
<circle cx="736.2" cy="684.1" r="1.5" fill="#2a2fa0"/>
<polyline points="566.3,778.28 651.25,759.14 736.2,750.77" fill="none" stroke="#2a2fa0" stroke-width="1.2" stroke-dasharray="4.5,1.6,1.3,1.6"/>
<line x1="566.3" y1="775.29" x2="566.3" y2="781.27" stroke="#2a2fa0" stroke-width="1.0"/>
<line x1="564.1" y1="775.29" x2="568.5" y2="775.29" stroke="#2a2fa0" stroke-width="1.0"/>
<line x1="564.1" y1="781.27" x2="568.5" y2="781.27" stroke="#2a2fa0" stroke-width="1.0"/>
<circle cx="566.3" cy="778.28" r="1.5" fill="#2a2fa0"/>
<line x1="651.25" y1="756.15" x2="651.25" y2="762.13" stroke="#2a2fa0" stroke-width="1.0"/>
<line x1="649.05" y1="756.15" x2="653.45" y2="756.15" stroke="#2a2fa0" stroke-width="1.0"/>
<line x1="649.05" y1="762.13" x2="653.45" y2="762.13" stroke="#2a2fa0" stroke-width="1.0"/>
<circle cx="651.25" cy="759.14" r="1.5" fill="#2a2fa0"/>
<line x1="736.2" y1="747.78" x2="736.2" y2="753.76" stroke="#2a2fa0" stroke-width="1.0"/>
<line x1="734" y1="747.78" x2="738.4" y2="747.78" stroke="#2a2fa0" stroke-width="1.0"/>
<line x1="734" y1="753.76" x2="738.4" y2="753.76" stroke="#2a2fa0" stroke-width="1.0"/>
<circle cx="736.2" cy="750.77" r="1.5" fill="#2a2fa0"/>
<polyline points="566.3,783.66 651.25,760.34 736.2,750.17" fill="none" stroke="#f0a03c" stroke-width="1.2" stroke-dasharray="4.5,1.6,1.3,1.6"/>
<line x1="566.3" y1="780.67" x2="566.3" y2="786.65" stroke="#f0a03c" stroke-width="1.0"/>
<line x1="564.1" y1="780.67" x2="568.5" y2="780.67" stroke="#f0a03c" stroke-width="1.0"/>
<line x1="564.1" y1="786.65" x2="568.5" y2="786.65" stroke="#f0a03c" stroke-width="1.0"/>
<circle cx="566.3" cy="783.66" r="1.5" fill="#f0a03c"/>
<line x1="651.25" y1="756.75" x2="651.25" y2="763.93" stroke="#f0a03c" stroke-width="1.0"/>
<line x1="649.05" y1="756.75" x2="653.45" y2="756.75" stroke="#f0a03c" stroke-width="1.0"/>
<line x1="649.05" y1="763.93" x2="653.45" y2="763.93" stroke="#f0a03c" stroke-width="1.0"/>
<circle cx="651.25" cy="760.34" r="1.5" fill="#f0a03c"/>
<line x1="736.2" y1="746.59" x2="736.2" y2="753.76" stroke="#f0a03c" stroke-width="1.0"/>
<line x1="734" y1="746.59" x2="738.4" y2="746.59" stroke="#f0a03c" stroke-width="1.0"/>
<line x1="734" y1="753.76" x2="738.4" y2="753.76" stroke="#f0a03c" stroke-width="1.0"/>
<circle cx="736.2" cy="750.17" r="1.5" fill="#f0a03c"/>
<polyline points="566.3,790.24 651.25,763.33 736.2,742.4" fill="none" stroke="#3a8c36" stroke-width="1.2" stroke-dasharray="4.5,1.6,1.3,1.6"/>
<line x1="566.3" y1="786.65" x2="566.3" y2="793.83" stroke="#3a8c36" stroke-width="1.0"/>
<line x1="564.1" y1="786.65" x2="568.5" y2="786.65" stroke="#3a8c36" stroke-width="1.0"/>
<line x1="564.1" y1="793.83" x2="568.5" y2="793.83" stroke="#3a8c36" stroke-width="1.0"/>
<circle cx="566.3" cy="790.24" r="1.5" fill="#3a8c36"/>
<line x1="651.25" y1="759.74" x2="651.25" y2="766.92" stroke="#3a8c36" stroke-width="1.0"/>
<line x1="649.05" y1="759.74" x2="653.45" y2="759.74" stroke="#3a8c36" stroke-width="1.0"/>
<line x1="649.05" y1="766.92" x2="653.45" y2="766.92" stroke="#3a8c36" stroke-width="1.0"/>
<circle cx="651.25" cy="763.33" r="1.5" fill="#3a8c36"/>
<line x1="736.2" y1="738.81" x2="736.2" y2="745.99" stroke="#3a8c36" stroke-width="1.0"/>
<line x1="734" y1="738.81" x2="738.4" y2="738.81" stroke="#3a8c36" stroke-width="1.0"/>
<line x1="734" y1="745.99" x2="738.4" y2="745.99" stroke="#3a8c36" stroke-width="1.0"/>
<circle cx="736.2" cy="742.4" r="1.5" fill="#3a8c36"/>
<polyline points="566.3,784.26 651.25,758.55 736.2,753.76" fill="none" stroke="#2a2fa0" stroke-width="1.2" stroke-dasharray="1.1,1.1"/>
<line x1="566.3" y1="781.27" x2="566.3" y2="787.25" stroke="#2a2fa0" stroke-width="1.0"/>
<line x1="564.1" y1="781.27" x2="568.5" y2="781.27" stroke="#2a2fa0" stroke-width="1.0"/>
<line x1="564.1" y1="787.25" x2="568.5" y2="787.25" stroke="#2a2fa0" stroke-width="1.0"/>
<circle cx="566.3" cy="784.26" r="1.5" fill="#2a2fa0"/>
<line x1="651.25" y1="755.56" x2="651.25" y2="761.54" stroke="#2a2fa0" stroke-width="1.0"/>
<line x1="649.05" y1="755.56" x2="653.45" y2="755.56" stroke="#2a2fa0" stroke-width="1.0"/>
<line x1="649.05" y1="761.54" x2="653.45" y2="761.54" stroke="#2a2fa0" stroke-width="1.0"/>
<circle cx="651.25" cy="758.55" r="1.5" fill="#2a2fa0"/>
<line x1="736.2" y1="750.77" x2="736.2" y2="756.75" stroke="#2a2fa0" stroke-width="1.0"/>
<line x1="734" y1="750.77" x2="738.4" y2="750.77" stroke="#2a2fa0" stroke-width="1.0"/>
<line x1="734" y1="756.75" x2="738.4" y2="756.75" stroke="#2a2fa0" stroke-width="1.0"/>
<circle cx="736.2" cy="753.76" r="1.5" fill="#2a2fa0"/>
<polyline points="566.3,794.43 651.25,766.32 736.2,755.56" fill="none" stroke="#f0a03c" stroke-width="1.2" stroke-dasharray="1.1,1.1"/>
<line x1="566.3" y1="791.44" x2="566.3" y2="797.42" stroke="#f0a03c" stroke-width="1.0"/>
<line x1="564.1" y1="791.44" x2="568.5" y2="791.44" stroke="#f0a03c" stroke-width="1.0"/>
<line x1="564.1" y1="797.42" x2="568.5" y2="797.42" stroke="#f0a03c" stroke-width="1.0"/>
<circle cx="566.3" cy="794.43" r="1.5" fill="#f0a03c"/>
<line x1="651.25" y1="763.33" x2="651.25" y2="769.31" stroke="#f0a03c" stroke-width="1.0"/>
<line x1="649.05" y1="763.33" x2="653.45" y2="763.33" stroke="#f0a03c" stroke-width="1.0"/>
<line x1="649.05" y1="769.31" x2="653.45" y2="769.31" stroke="#f0a03c" stroke-width="1.0"/>
<circle cx="651.25" cy="766.32" r="1.5" fill="#f0a03c"/>
<line x1="736.2" y1="752.57" x2="736.2" y2="758.55" stroke="#f0a03c" stroke-width="1.0"/>
<line x1="734" y1="752.57" x2="738.4" y2="752.57" stroke="#f0a03c" stroke-width="1.0"/>
<line x1="734" y1="758.55" x2="738.4" y2="758.55" stroke="#f0a03c" stroke-width="1.0"/>
<circle cx="736.2" cy="755.56" r="1.5" fill="#f0a03c"/>
<polyline points="566.3,795.62 651.25,759.14 736.2,735.82" fill="none" stroke="#3a8c36" stroke-width="1.2" stroke-dasharray="1.1,1.1"/>
<line x1="566.3" y1="792.63" x2="566.3" y2="798.61" stroke="#3a8c36" stroke-width="1.0"/>
<line x1="564.1" y1="792.63" x2="568.5" y2="792.63" stroke="#3a8c36" stroke-width="1.0"/>
<line x1="564.1" y1="798.61" x2="568.5" y2="798.61" stroke="#3a8c36" stroke-width="1.0"/>
<circle cx="566.3" cy="795.62" r="1.5" fill="#3a8c36"/>
<line x1="651.25" y1="756.15" x2="651.25" y2="762.13" stroke="#3a8c36" stroke-width="1.0"/>
<line x1="649.05" y1="756.15" x2="653.45" y2="756.15" stroke="#3a8c36" stroke-width="1.0"/>
<line x1="649.05" y1="762.13" x2="653.45" y2="762.13" stroke="#3a8c36" stroke-width="1.0"/>
<circle cx="651.25" cy="759.14" r="1.5" fill="#3a8c36"/>
<line x1="736.2" y1="732.23" x2="736.2" y2="739.41" stroke="#3a8c36" stroke-width="1.0"/>
<line x1="734" y1="732.23" x2="738.4" y2="732.23" stroke="#3a8c36" stroke-width="1.0"/>
<line x1="734" y1="739.41" x2="738.4" y2="739.41" stroke="#3a8c36" stroke-width="1.0"/>
<circle cx="736.2" cy="735.82" r="1.5" fill="#3a8c36"/>
<line x1="545.3" y1="651.7" x2="545.3" y2="802.4" stroke="#606060" stroke-width="1.0"/>
<line x1="542.8" y1="802.4" x2="758" y2="802.4" stroke="#606060" stroke-width="1.1"/>
<line x1="542" y1="802.2" x2="545.3" y2="802.2" stroke="#606060" stroke-width="0.9"/>
<text x="540.3" y="805" font-family="'Liberation Serif', serif" font-size="8.0" text-anchor="end" fill="#1a1a1a" stroke="#1a1a1a" font-weight="bold" font-style="normal">0.20</text>
<line x1="542" y1="772.3" x2="545.3" y2="772.3" stroke="#606060" stroke-width="0.9"/>
<text x="540.3" y="775.1" font-family="'Liberation Serif', serif" font-size="8.0" text-anchor="end" fill="#1a1a1a" stroke="#1a1a1a" font-weight="bold" font-style="normal">0.25</text>
<line x1="542" y1="742.4" x2="545.3" y2="742.4" stroke="#606060" stroke-width="0.9"/>
<text x="540.3" y="745.2" font-family="'Liberation Serif', serif" font-size="8.0" text-anchor="end" fill="#1a1a1a" stroke="#1a1a1a" font-weight="bold" font-style="normal">0.30</text>
<line x1="542" y1="712.5" x2="545.3" y2="712.5" stroke="#606060" stroke-width="0.9"/>
<text x="540.3" y="715.3" font-family="'Liberation Serif', serif" font-size="8.0" text-anchor="end" fill="#1a1a1a" stroke="#1a1a1a" font-weight="bold" font-style="normal">0.35</text>
<line x1="542" y1="682.6" x2="545.3" y2="682.6" stroke="#606060" stroke-width="0.9"/>
<text x="540.3" y="685.4" font-family="'Liberation Serif', serif" font-size="8.0" text-anchor="end" fill="#1a1a1a" stroke="#1a1a1a" font-weight="bold" font-style="normal">0.40</text>
<line x1="542" y1="652.7" x2="545.3" y2="652.7" stroke="#606060" stroke-width="0.9"/>
<text x="540.3" y="655.5" font-family="'Liberation Serif', serif" font-size="8.0" text-anchor="end" fill="#1a1a1a" stroke="#1a1a1a" font-weight="bold" font-style="normal">0.45</text>
<line x1="566.3" y1="802.4" x2="566.3" y2="805.7" stroke="#606060" stroke-width="0.9"/>
<text x="566.3" y="813.4" font-family="'Liberation Serif', serif" font-size="8.0" text-anchor="middle" fill="#1a1a1a" stroke="#1a1a1a" font-weight="bold" font-style="normal">30</text>
<line x1="608.77" y1="802.4" x2="608.77" y2="805.7" stroke="#606060" stroke-width="0.9"/>
<text x="608.77" y="813.4" font-family="'Liberation Serif', serif" font-size="8.0" text-anchor="middle" fill="#1a1a1a" stroke="#1a1a1a" font-weight="bold" font-style="normal">35</text>
<line x1="651.25" y1="802.4" x2="651.25" y2="805.7" stroke="#606060" stroke-width="0.9"/>
<text x="651.25" y="813.4" font-family="'Liberation Serif', serif" font-size="8.0" text-anchor="middle" fill="#1a1a1a" stroke="#1a1a1a" font-weight="bold" font-style="normal">40</text>
<line x1="693.72" y1="802.4" x2="693.72" y2="805.7" stroke="#606060" stroke-width="0.9"/>
<text x="693.72" y="813.4" font-family="'Liberation Serif', serif" font-size="8.0" text-anchor="middle" fill="#1a1a1a" stroke="#1a1a1a" font-weight="bold" font-style="normal">45</text>
<line x1="736.2" y1="802.4" x2="736.2" y2="805.7" stroke="#606060" stroke-width="0.9"/>
<text x="736.2" y="813.4" font-family="'Liberation Serif', serif" font-size="8.0" text-anchor="middle" fill="#1a1a1a" stroke="#1a1a1a" font-weight="bold" font-style="normal">50</text>
<line x1="587.54" y1="802.4" x2="587.54" y2="804.2" stroke="#606060" stroke-width="0.7"/>
<line x1="630.01" y1="802.4" x2="630.01" y2="804.2" stroke="#606060" stroke-width="0.7"/>
<line x1="672.49" y1="802.4" x2="672.49" y2="804.2" stroke="#606060" stroke-width="0.7"/>
<line x1="714.96" y1="802.4" x2="714.96" y2="804.2" stroke="#606060" stroke-width="0.7"/>
<text x="521.6" y="733" font-family="'Liberation Serif', serif" font-size="8.8" font-weight="bold" fill="#1a1a1a" text-anchor="middle" transform="rotate(-90 521.6 733)">Specific Damping Capacity</text>
<text x="650.7" y="826.8" font-family="'Liberation Serif', serif" font-size="9.2" text-anchor="middle" fill="#1a1a1a" stroke="#1a1a1a" font-weight="bold" font-style="normal">% Compression</text>
</svg>
</body></html>
